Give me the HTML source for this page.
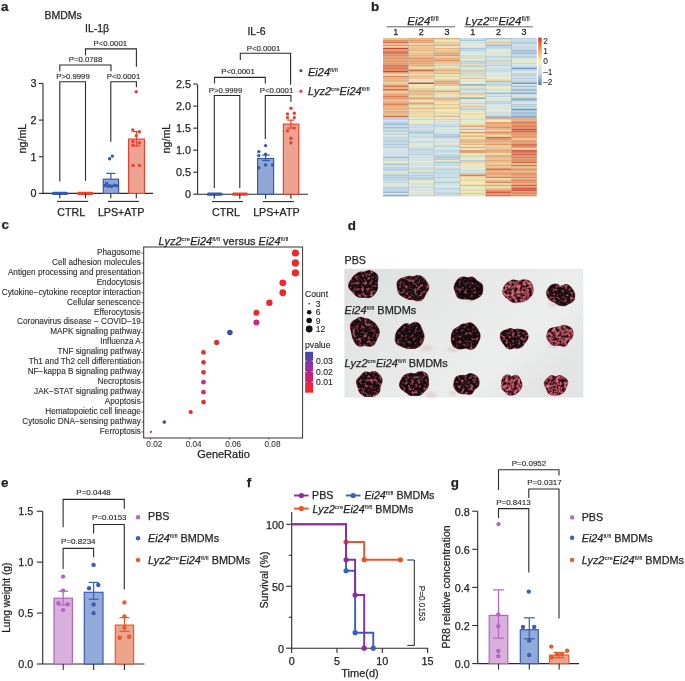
<!DOCTYPE html>
<html><head><meta charset="utf-8"><style>
html,body{margin:0;padding:0;background:#fff;width:685px;height:681px;overflow:hidden}
svg{display:block;font-family:"Liberation Sans", sans-serif}
text{stroke:#231f20;stroke-width:0.25px;stroke-linejoin:round}
text.sm{stroke-width:0.12px}
tspan.sp{stroke-width:0.1px}
</style></head><body>
<svg width="685" height="681" viewBox="0 0 685 681">
<defs><filter id="soft" x="0" y="0" width="100%" height="100%" color-interpolation-filters="sRGB"><feGaussianBlur stdDeviation="0.35"/></filter></defs>
<g filter="url(#soft)">
<rect width="685" height="681" fill="#fff"/>
<text x="0.9" y="10.7" font-size="13.4" text-anchor="start" font-weight="bold" font-style="normal" fill="#231f20" >a</text>
<text x="370.9" y="10.75" font-size="13.4" text-anchor="start" font-weight="bold" font-style="normal" fill="#231f20" >b</text>
<text x="1.5" y="229.35" font-size="13.4" text-anchor="start" font-weight="bold" font-style="normal" fill="#231f20" >c</text>
<text x="347.7" y="229.55" font-size="13.4" text-anchor="start" font-weight="bold" font-style="normal" fill="#231f20" >d</text>
<text x="0.9" y="486.65" font-size="13.4" text-anchor="start" font-weight="bold" font-style="normal" fill="#231f20" >e</text>
<text x="246.7" y="486.8" font-size="13.4" text-anchor="start" font-weight="bold" font-style="normal" fill="#231f20" >f</text>
<text x="450.8" y="486.75" font-size="13.4" text-anchor="start" font-weight="bold" font-style="normal" fill="#231f20" >g</text>
<text x="44.5" y="19.1" font-size="10.5" text-anchor="start" font-weight="normal" font-style="normal" fill="#231f20" >BMDMs</text>
<text x="85" y="31.5" font-size="10.5" text-anchor="start" font-weight="normal" font-style="normal" fill="#231f20" >IL-1β</text>
<line x1="43.00" y1="83.50" x2="43.00" y2="193.40" stroke="#2a2a2a" stroke-width="1.1" stroke-linecap="butt"/>
<line x1="38.80" y1="83.45" x2="43.00" y2="83.45" stroke="#2a2a2a" stroke-width="1.1" stroke-linecap="butt"/>
<text x="36.4" y="87.33800000000002" font-size="10.8" text-anchor="end" font-weight="normal" font-style="normal" fill="#231f20" >3</text>
<line x1="38.80" y1="120.10" x2="43.00" y2="120.10" stroke="#2a2a2a" stroke-width="1.1" stroke-linecap="butt"/>
<text x="36.4" y="123.98800000000001" font-size="10.8" text-anchor="end" font-weight="normal" font-style="normal" fill="#231f20" >2</text>
<line x1="38.80" y1="156.75" x2="43.00" y2="156.75" stroke="#2a2a2a" stroke-width="1.1" stroke-linecap="butt"/>
<text x="36.4" y="160.638" font-size="10.8" text-anchor="end" font-weight="normal" font-style="normal" fill="#231f20" >1</text>
<line x1="38.80" y1="193.40" x2="43.00" y2="193.40" stroke="#2a2a2a" stroke-width="1.1" stroke-linecap="butt"/>
<text x="36.4" y="197.288" font-size="10.8" text-anchor="end" font-weight="normal" font-style="normal" fill="#231f20" >0</text>
<line x1="43.00" y1="193.40" x2="153.00" y2="193.40" stroke="#2a2a2a" stroke-width="1.1" stroke-linecap="butt"/>
<text transform="translate(25.9,138.6) rotate(-90)" font-size="10.7" text-anchor="middle" fill="#231f20">ng/mL</text>
<line x1="53.50" y1="193.40" x2="66.40" y2="193.40" stroke="#3459b0" stroke-width="3.3" stroke-linecap="round"/>
<line x1="78.70" y1="193.40" x2="91.80" y2="193.40" stroke="#e8432e" stroke-width="3.3" stroke-linecap="round"/>
<rect x="103.3" y="179.2" width="15.3" height="14.200000000000017" fill="#8fa7d4" stroke="#3459b0" stroke-width="1.2"/>
<rect x="128.6" y="139.1" width="15.9" height="54.30000000000001" fill="#eca392" stroke="#e8432e" stroke-width="1.2"/>
<line x1="110.90" y1="173.40" x2="110.90" y2="179.20" stroke="#3459b0" stroke-width="1.2" stroke-linecap="butt"/>
<line x1="106.30" y1="173.40" x2="115.40" y2="173.40" stroke="#3459b0" stroke-width="1.2" stroke-linecap="butt"/>
<line x1="106.50" y1="185.80" x2="115.20" y2="185.80" stroke="#3459b0" stroke-width="1.2" stroke-linecap="butt"/>
<line x1="136.50" y1="131.60" x2="136.50" y2="146.00" stroke="#e8432e" stroke-width="1.2" stroke-linecap="butt"/>
<line x1="132.80" y1="131.60" x2="140.20" y2="131.60" stroke="#e8432e" stroke-width="1.2" stroke-linecap="butt"/>
<line x1="132.80" y1="146.00" x2="140.20" y2="146.00" stroke="#e8432e" stroke-width="1.2" stroke-linecap="butt"/>
<circle cx="112.30" cy="156.10" r="1.7" fill="#3459b0" />
<circle cx="109.60" cy="158.80" r="1.7" fill="#3459b0" />
<circle cx="106.60" cy="183.40" r="1.7" fill="#3459b0" />
<circle cx="109.90" cy="185.60" r="1.7" fill="#3459b0" />
<circle cx="114.30" cy="185.20" r="1.7" fill="#3459b0" />
<circle cx="117.10" cy="185.80" r="1.7" fill="#3459b0" />
<circle cx="104.60" cy="185.60" r="1.7" fill="#3459b0" />
<circle cx="111.50" cy="186.60" r="1.7" fill="#3459b0" />
<circle cx="108.00" cy="186.20" r="1.7" fill="#3459b0" />
<circle cx="136.20" cy="91.70" r="1.7" fill="#e8432e" />
<circle cx="132.80" cy="130.00" r="1.7" fill="#e8432e" />
<circle cx="139.40" cy="131.80" r="1.7" fill="#e8432e" />
<circle cx="136.30" cy="135.80" r="1.7" fill="#e8432e" />
<circle cx="133.00" cy="141.50" r="1.7" fill="#e8432e" />
<circle cx="139.40" cy="142.80" r="1.7" fill="#e8432e" />
<circle cx="133.00" cy="145.20" r="1.7" fill="#e8432e" />
<circle cx="133.20" cy="165.40" r="1.7" fill="#e8432e" />
<circle cx="139.50" cy="165.40" r="1.7" fill="#e8432e" />
<line x1="59.80" y1="193.40" x2="59.80" y2="198.20" stroke="#2a2a2a" stroke-width="1.1" stroke-linecap="butt"/>
<line x1="85.50" y1="193.40" x2="85.50" y2="198.20" stroke="#2a2a2a" stroke-width="1.1" stroke-linecap="butt"/>
<line x1="110.80" y1="193.40" x2="110.80" y2="198.20" stroke="#2a2a2a" stroke-width="1.1" stroke-linecap="butt"/>
<line x1="136.30" y1="193.40" x2="136.30" y2="198.20" stroke="#2a2a2a" stroke-width="1.1" stroke-linecap="butt"/>
<line x1="57.00" y1="201.40" x2="88.20" y2="201.40" stroke="#2a2a2a" stroke-width="1.1" stroke-linecap="butt"/>
<line x1="108.00" y1="201.40" x2="139.00" y2="201.40" stroke="#2a2a2a" stroke-width="1.1" stroke-linecap="butt"/>
<text x="71.3" y="216.2" font-size="10.7" text-anchor="middle" font-weight="normal" font-style="normal" fill="#231f20" >CTRL</text>
<text x="121.1" y="216.2" font-size="10.7" text-anchor="middle" font-weight="normal" font-style="normal" fill="#231f20" >LPS+ATP</text>
<polyline points="85.50,55.40 85.50,48.90 136.40,48.90 136.40,66.80" fill="none" stroke="#2a2a2a" stroke-width="1.1" stroke-linejoin="miter"/>
<text x="110.3" y="46.1" font-size="7.8" text-anchor="middle" font-weight="normal" font-style="normal" fill="#231f20"  class="sm">P&lt;0.0001</text>
<polyline points="59.80,71.20 59.80,65.00 111.00,65.00 111.00,71.20" fill="none" stroke="#2a2a2a" stroke-width="1.1" stroke-linejoin="miter"/>
<text x="85.5" y="62" font-size="7.8" text-anchor="middle" font-weight="normal" font-style="normal" fill="#231f20"  class="sm">P=0.0788</text>
<polyline points="59.80,181.50 59.80,81.70 85.50,81.70 85.50,180.70" fill="none" stroke="#2a2a2a" stroke-width="1.1" stroke-linejoin="miter"/>
<text x="73" y="78.5" font-size="7.8" text-anchor="middle" font-weight="normal" font-style="normal" fill="#231f20"  class="sm">P&gt;0.9999</text>
<polyline points="110.80,141.70 110.80,81.70 136.40,81.70 136.40,87.30" fill="none" stroke="#2a2a2a" stroke-width="1.1" stroke-linejoin="miter"/>
<text x="123.5" y="78.5" font-size="7.8" text-anchor="middle" font-weight="normal" font-style="normal" fill="#231f20"  class="sm">P&lt;0.0001</text>
<text x="256.5" y="35.4" font-size="10.5" text-anchor="middle" font-weight="normal" font-style="normal" fill="#231f20" >IL-6</text>
<line x1="197.60" y1="84.50" x2="197.60" y2="194.20" stroke="#2a2a2a" stroke-width="1.1" stroke-linecap="butt"/>
<line x1="193.30" y1="84.10" x2="197.60" y2="84.10" stroke="#2a2a2a" stroke-width="1.1" stroke-linecap="butt"/>
<text x="191" y="87.788" font-size="10.8" text-anchor="end" font-weight="normal" font-style="normal" fill="#231f20" >2.5</text>
<line x1="193.30" y1="106.12" x2="197.60" y2="106.12" stroke="#2a2a2a" stroke-width="1.1" stroke-linecap="butt"/>
<text x="191" y="109.80799999999999" font-size="10.8" text-anchor="end" font-weight="normal" font-style="normal" fill="#231f20" >2.0</text>
<line x1="193.30" y1="128.14" x2="197.60" y2="128.14" stroke="#2a2a2a" stroke-width="1.1" stroke-linecap="butt"/>
<text x="191" y="131.828" font-size="10.8" text-anchor="end" font-weight="normal" font-style="normal" fill="#231f20" >1.5</text>
<line x1="193.30" y1="150.16" x2="197.60" y2="150.16" stroke="#2a2a2a" stroke-width="1.1" stroke-linecap="butt"/>
<text x="191" y="153.848" font-size="10.8" text-anchor="end" font-weight="normal" font-style="normal" fill="#231f20" >1.0</text>
<line x1="193.30" y1="172.18" x2="197.60" y2="172.18" stroke="#2a2a2a" stroke-width="1.1" stroke-linecap="butt"/>
<text x="191" y="175.868" font-size="10.8" text-anchor="end" font-weight="normal" font-style="normal" fill="#231f20" >0.5</text>
<line x1="193.30" y1="194.20" x2="197.60" y2="194.20" stroke="#2a2a2a" stroke-width="1.1" stroke-linecap="butt"/>
<text x="191" y="197.888" font-size="10.8" text-anchor="end" font-weight="normal" font-style="normal" fill="#231f20" >0</text>
<line x1="197.60" y1="194.20" x2="308.00" y2="194.20" stroke="#2a2a2a" stroke-width="1.1" stroke-linecap="butt"/>
<text transform="translate(169.8,138.6) rotate(-90)" font-size="10.7" text-anchor="middle" fill="#231f20">ng/mL</text>
<line x1="208.40" y1="194.20" x2="221.00" y2="194.20" stroke="#3459b0" stroke-width="3.3" stroke-linecap="round"/>
<line x1="233.50" y1="194.20" x2="246.40" y2="194.20" stroke="#e8432e" stroke-width="3.3" stroke-linecap="round"/>
<rect x="257.6" y="158.5" width="16" height="35.69999999999999" fill="#8fa7d4" stroke="#3459b0" stroke-width="1.2"/>
<rect x="283.4" y="124.1" width="15.4" height="70.1" fill="#eca392" stroke="#e8432e" stroke-width="1.2"/>
<line x1="265.60" y1="155.10" x2="265.60" y2="160.50" stroke="#3459b0" stroke-width="1.2" stroke-linecap="butt"/>
<line x1="262.20" y1="155.10" x2="269.80" y2="155.10" stroke="#3459b0" stroke-width="1.2" stroke-linecap="butt"/>
<line x1="262.20" y1="160.50" x2="269.80" y2="160.50" stroke="#3459b0" stroke-width="1.2" stroke-linecap="butt"/>
<line x1="290.90" y1="120.10" x2="290.90" y2="128.10" stroke="#e8432e" stroke-width="1.2" stroke-linecap="butt"/>
<line x1="287.20" y1="120.10" x2="294.60" y2="120.10" stroke="#e8432e" stroke-width="1.2" stroke-linecap="butt"/>
<line x1="287.20" y1="128.10" x2="294.60" y2="128.10" stroke="#e8432e" stroke-width="1.2" stroke-linecap="butt"/>
<circle cx="265.60" cy="145.60" r="1.7" fill="#3459b0" />
<circle cx="258.80" cy="151.60" r="1.7" fill="#3459b0" />
<circle cx="258.80" cy="155.60" r="1.7" fill="#3459b0" />
<circle cx="265.60" cy="154.30" r="1.7" fill="#3459b0" />
<circle cx="265.60" cy="165.00" r="1.7" fill="#3459b0" />
<circle cx="258.80" cy="167.70" r="1.7" fill="#3459b0" />
<circle cx="272.50" cy="165.00" r="1.7" fill="#3459b0" />
<circle cx="290.90" cy="108.30" r="1.7" fill="#e8432e" />
<circle cx="287.50" cy="113.90" r="1.7" fill="#e8432e" />
<circle cx="294.30" cy="113.30" r="1.7" fill="#e8432e" />
<circle cx="287.50" cy="117.60" r="1.7" fill="#e8432e" />
<circle cx="294.30" cy="117.60" r="1.7" fill="#e8432e" />
<circle cx="294.30" cy="128.10" r="1.7" fill="#e8432e" />
<circle cx="287.50" cy="130.90" r="1.7" fill="#e8432e" />
<circle cx="290.90" cy="138.30" r="1.7" fill="#e8432e" />
<circle cx="290.90" cy="142.70" r="1.7" fill="#e8432e" />
<line x1="214.30" y1="194.20" x2="214.30" y2="198.80" stroke="#2a2a2a" stroke-width="1.1" stroke-linecap="butt"/>
<line x1="239.80" y1="194.20" x2="239.80" y2="198.80" stroke="#2a2a2a" stroke-width="1.1" stroke-linecap="butt"/>
<line x1="265.60" y1="194.20" x2="265.60" y2="198.80" stroke="#2a2a2a" stroke-width="1.1" stroke-linecap="butt"/>
<line x1="290.90" y1="194.20" x2="290.90" y2="198.80" stroke="#2a2a2a" stroke-width="1.1" stroke-linecap="butt"/>
<line x1="212.00" y1="201.60" x2="243.00" y2="201.60" stroke="#2a2a2a" stroke-width="1.1" stroke-linecap="butt"/>
<line x1="262.80" y1="201.60" x2="294.00" y2="201.60" stroke="#2a2a2a" stroke-width="1.1" stroke-linecap="butt"/>
<text x="226" y="216.4" font-size="10.7" text-anchor="middle" font-weight="normal" font-style="normal" fill="#231f20" >CTRL</text>
<text x="276.4" y="216.4" font-size="10.7" text-anchor="middle" font-weight="normal" font-style="normal" fill="#231f20" >LPS+ATP</text>
<polyline points="240.30,60.00 240.30,53.30 290.60,53.30 290.60,84.70" fill="none" stroke="#2a2a2a" stroke-width="1.1" stroke-linejoin="miter"/>
<text x="263.5" y="50.8" font-size="7.8" text-anchor="middle" font-weight="normal" font-style="normal" fill="#231f20"  class="sm">P&lt;0.0001</text>
<polyline points="214.50,83.60 214.50,77.40 265.30,77.40 265.30,83.60" fill="none" stroke="#2a2a2a" stroke-width="1.1" stroke-linejoin="miter"/>
<text x="238" y="74" font-size="7.8" text-anchor="middle" font-weight="normal" font-style="normal" fill="#231f20"  class="sm">P&lt;0.0001</text>
<polyline points="214.30,188.00 214.30,95.50 239.80,95.50 239.80,188.00" fill="none" stroke="#2a2a2a" stroke-width="1.1" stroke-linejoin="miter"/>
<text x="225.5" y="92.5" font-size="7.8" text-anchor="middle" font-weight="normal" font-style="normal" fill="#231f20"  class="sm">P&gt;0.9999</text>
<polyline points="265.30,139.00 265.30,95.50 290.90,95.50 290.90,101.80" fill="none" stroke="#2a2a2a" stroke-width="1.1" stroke-linejoin="miter"/>
<text x="276.5" y="92.5" font-size="7.8" text-anchor="middle" font-weight="normal" font-style="normal" fill="#231f20"  class="sm">P&lt;0.0001</text>
<circle cx="300.90" cy="70.70" r="1.6" fill="#3459b0" />
<text  x="308" y="75.8" font-size="11" text-anchor="start" fill="#231f20"><tspan font-style="italic">Ei24</tspan><tspan class="sp" font-size="6.16" dy="-3.96">fl/fl</tspan><tspan dy="3.96"></tspan></text>
<circle cx="300.90" cy="91.20" r="1.6" fill="#e8432e" />
<text  x="308" y="95.4" font-size="11" text-anchor="start" fill="#231f20"><tspan font-style="italic">Lyz2</tspan><tspan class="sp" font-size="6.16" dy="-3.96">cre</tspan><tspan font-style="italic" dy="3.96">Ei24</tspan><tspan class="sp" font-size="6.16" dy="-3.96">fl/fl</tspan><tspan dy="3.96"></tspan></text>
<text  x="423" y="25" font-size="11.5" text-anchor="middle" fill="#231f20"><tspan font-style="italic">Ei24</tspan><tspan class="sp" font-size="6.44" dy="-4.14">fl/fl</tspan><tspan dy="4.14"></tspan></text>
<text  x="497.5" y="25" font-size="11.5" text-anchor="middle" fill="#231f20"><tspan font-style="italic">Lyz2</tspan><tspan class="sp" font-size="6.44" dy="-4.14">cre</tspan><tspan font-style="italic" dy="4.14">Ei24</tspan><tspan class="sp" font-size="6.44" dy="-4.14">fl/fl</tspan><tspan dy="4.14"></tspan></text>
<line x1="386.70" y1="26.80" x2="455.10" y2="26.80" stroke="#555" stroke-width="0.9" stroke-linecap="butt"/>
<line x1="464.30" y1="26.80" x2="532.70" y2="26.80" stroke="#555" stroke-width="0.9" stroke-linecap="butt"/>
<text x="395.7" y="35.4" font-size="9" text-anchor="middle" font-weight="normal" font-style="normal" fill="#231f20" >1</text>
<text x="421.3" y="35.4" font-size="9" text-anchor="middle" font-weight="normal" font-style="normal" fill="#231f20" >2</text>
<text x="447" y="35.4" font-size="9" text-anchor="middle" font-weight="normal" font-style="normal" fill="#231f20" >3</text>
<text x="472.8" y="35.4" font-size="9" text-anchor="middle" font-weight="normal" font-style="normal" fill="#231f20" >1</text>
<text x="498.6" y="35.4" font-size="9" text-anchor="middle" font-weight="normal" font-style="normal" fill="#231f20" >2</text>
<text x="524.1" y="35.4" font-size="9" text-anchor="middle" font-weight="normal" font-style="normal" fill="#231f20" >3</text>
<rect x="383.00" y="38.00" width="25.50" height="1.70" fill="#e9c792" stroke="none" stroke-width="1"/>
<rect x="408.50" y="38.00" width="25.70" height="1.70" fill="#e6b27f" stroke="none" stroke-width="1"/>
<rect x="434.20" y="38.00" width="25.70" height="1.70" fill="#e5ad7a" stroke="none" stroke-width="1"/>
<rect x="459.90" y="38.00" width="25.80" height="1.70" fill="#c8dbe3" stroke="none" stroke-width="1"/>
<rect x="485.70" y="38.00" width="25.80" height="1.70" fill="#a9c5db" stroke="none" stroke-width="1"/>
<rect x="511.50" y="38.00" width="25.30" height="1.70" fill="#b8d1e0" stroke="none" stroke-width="1"/>
<rect x="383.00" y="39.65" width="25.50" height="1.70" fill="#e09466" stroke="none" stroke-width="1"/>
<rect x="408.50" y="39.65" width="25.70" height="1.70" fill="#e39c6b" stroke="none" stroke-width="1"/>
<rect x="434.20" y="39.65" width="25.70" height="1.70" fill="#e8eabf" stroke="none" stroke-width="1"/>
<rect x="459.90" y="39.65" width="25.80" height="1.70" fill="#aac6dc" stroke="none" stroke-width="1"/>
<rect x="485.70" y="39.65" width="25.80" height="1.70" fill="#dde6d3" stroke="none" stroke-width="1"/>
<rect x="511.50" y="39.65" width="25.30" height="1.70" fill="#c7dbe3" stroke="none" stroke-width="1"/>
<rect x="383.00" y="41.30" width="25.50" height="1.70" fill="#d77050" stroke="none" stroke-width="1"/>
<rect x="408.50" y="41.30" width="25.70" height="1.70" fill="#e4a06e" stroke="none" stroke-width="1"/>
<rect x="434.20" y="41.30" width="25.70" height="1.70" fill="#ead09a" stroke="none" stroke-width="1"/>
<rect x="459.90" y="41.30" width="25.80" height="1.70" fill="#d0e1e5" stroke="none" stroke-width="1"/>
<rect x="485.70" y="41.30" width="25.80" height="1.70" fill="#e9cb96" stroke="none" stroke-width="1"/>
<rect x="511.50" y="41.30" width="25.30" height="1.70" fill="#b2ccdf" stroke="none" stroke-width="1"/>
<rect x="383.00" y="42.95" width="25.50" height="1.70" fill="#e7ba86" stroke="none" stroke-width="1"/>
<rect x="408.50" y="42.95" width="25.70" height="1.70" fill="#ece1a9" stroke="none" stroke-width="1"/>
<rect x="434.20" y="42.95" width="25.70" height="1.70" fill="#e9ca95" stroke="none" stroke-width="1"/>
<rect x="459.90" y="42.95" width="25.80" height="1.70" fill="#dde6d4" stroke="none" stroke-width="1"/>
<rect x="485.70" y="42.95" width="25.80" height="1.70" fill="#c4d9e3" stroke="none" stroke-width="1"/>
<rect x="511.50" y="42.95" width="25.30" height="1.70" fill="#b8d1e0" stroke="none" stroke-width="1"/>
<rect x="383.00" y="44.60" width="25.50" height="1.70" fill="#e29b6a" stroke="none" stroke-width="1"/>
<rect x="408.50" y="44.60" width="25.70" height="1.70" fill="#e5a976" stroke="none" stroke-width="1"/>
<rect x="434.20" y="44.60" width="25.70" height="1.70" fill="#e5aa77" stroke="none" stroke-width="1"/>
<rect x="459.90" y="44.60" width="25.80" height="1.70" fill="#dfe7d0" stroke="none" stroke-width="1"/>
<rect x="485.70" y="44.60" width="25.80" height="1.70" fill="#9ab9d5" stroke="none" stroke-width="1"/>
<rect x="511.50" y="44.60" width="25.30" height="1.70" fill="#cddfe4" stroke="none" stroke-width="1"/>
<rect x="383.00" y="46.24" width="25.50" height="1.70" fill="#e9cc97" stroke="none" stroke-width="1"/>
<rect x="408.50" y="46.24" width="25.70" height="1.70" fill="#e8c38e" stroke="none" stroke-width="1"/>
<rect x="434.20" y="46.24" width="25.70" height="1.70" fill="#e2e8c9" stroke="none" stroke-width="1"/>
<rect x="459.90" y="46.24" width="25.80" height="1.70" fill="#d9e5db" stroke="none" stroke-width="1"/>
<rect x="485.70" y="46.24" width="25.80" height="1.70" fill="#b9d1e1" stroke="none" stroke-width="1"/>
<rect x="511.50" y="46.24" width="25.30" height="1.70" fill="#c0d6e2" stroke="none" stroke-width="1"/>
<rect x="383.00" y="47.89" width="25.50" height="1.70" fill="#cc4636" stroke="none" stroke-width="1"/>
<rect x="408.50" y="47.89" width="25.70" height="1.70" fill="#e8bf8b" stroke="none" stroke-width="1"/>
<rect x="434.20" y="47.89" width="25.70" height="1.70" fill="#e6b27f" stroke="none" stroke-width="1"/>
<rect x="459.90" y="47.89" width="25.80" height="1.70" fill="#a9c5db" stroke="none" stroke-width="1"/>
<rect x="485.70" y="47.89" width="25.80" height="1.70" fill="#c6dae3" stroke="none" stroke-width="1"/>
<rect x="511.50" y="47.89" width="25.30" height="1.70" fill="#ccdee4" stroke="none" stroke-width="1"/>
<rect x="383.00" y="49.54" width="25.50" height="1.70" fill="#e4a673" stroke="none" stroke-width="1"/>
<rect x="408.50" y="49.54" width="25.70" height="1.70" fill="#e6b37f" stroke="none" stroke-width="1"/>
<rect x="434.20" y="49.54" width="25.70" height="1.70" fill="#e9ca94" stroke="none" stroke-width="1"/>
<rect x="459.90" y="49.54" width="25.80" height="1.70" fill="#b6d0e0" stroke="none" stroke-width="1"/>
<rect x="485.70" y="49.54" width="25.80" height="1.70" fill="#dae6d9" stroke="none" stroke-width="1"/>
<rect x="511.50" y="49.54" width="25.30" height="1.70" fill="#a0bed8" stroke="none" stroke-width="1"/>
<rect x="383.00" y="51.19" width="25.50" height="1.70" fill="#d46448" stroke="none" stroke-width="1"/>
<rect x="408.50" y="51.19" width="25.70" height="1.70" fill="#eacd98" stroke="none" stroke-width="1"/>
<rect x="434.20" y="51.19" width="25.70" height="1.70" fill="#e7b783" stroke="none" stroke-width="1"/>
<rect x="459.90" y="51.19" width="25.80" height="1.70" fill="#d9e5db" stroke="none" stroke-width="1"/>
<rect x="485.70" y="51.19" width="25.80" height="1.70" fill="#e2e8c9" stroke="none" stroke-width="1"/>
<rect x="511.50" y="51.19" width="25.30" height="1.70" fill="#a7c3db" stroke="none" stroke-width="1"/>
<rect x="383.00" y="52.84" width="25.50" height="1.70" fill="#dc825b" stroke="none" stroke-width="1"/>
<rect x="408.50" y="52.84" width="25.70" height="1.70" fill="#e8c28d" stroke="none" stroke-width="1"/>
<rect x="434.20" y="52.84" width="25.70" height="1.70" fill="#e4a572" stroke="none" stroke-width="1"/>
<rect x="459.90" y="52.84" width="25.80" height="1.70" fill="#ebebb9" stroke="none" stroke-width="1"/>
<rect x="485.70" y="52.84" width="25.80" height="1.70" fill="#d1e2e5" stroke="none" stroke-width="1"/>
<rect x="511.50" y="52.84" width="25.30" height="1.70" fill="#a1bed8" stroke="none" stroke-width="1"/>
<rect x="383.00" y="54.49" width="25.50" height="1.70" fill="#de8a60" stroke="none" stroke-width="1"/>
<rect x="408.50" y="54.49" width="25.70" height="1.70" fill="#e6b07c" stroke="none" stroke-width="1"/>
<rect x="434.20" y="54.49" width="25.70" height="1.70" fill="#e19768" stroke="none" stroke-width="1"/>
<rect x="459.90" y="54.49" width="25.80" height="1.70" fill="#cddfe4" stroke="none" stroke-width="1"/>
<rect x="485.70" y="54.49" width="25.80" height="1.70" fill="#dae5d9" stroke="none" stroke-width="1"/>
<rect x="511.50" y="54.49" width="25.30" height="1.70" fill="#c8dbe3" stroke="none" stroke-width="1"/>
<rect x="383.00" y="56.14" width="25.50" height="1.70" fill="#e29a6a" stroke="none" stroke-width="1"/>
<rect x="408.50" y="56.14" width="25.70" height="1.70" fill="#e7b884" stroke="none" stroke-width="1"/>
<rect x="434.20" y="56.14" width="25.70" height="1.70" fill="#e9c792" stroke="none" stroke-width="1"/>
<rect x="459.90" y="56.14" width="25.80" height="1.70" fill="#c5d9e3" stroke="none" stroke-width="1"/>
<rect x="485.70" y="56.14" width="25.80" height="1.70" fill="#b3cddf" stroke="none" stroke-width="1"/>
<rect x="511.50" y="56.14" width="25.30" height="1.70" fill="#aec9dd" stroke="none" stroke-width="1"/>
<rect x="383.00" y="57.79" width="25.50" height="1.70" fill="#df9064" stroke="none" stroke-width="1"/>
<rect x="408.50" y="57.79" width="25.70" height="1.70" fill="#df8d62" stroke="none" stroke-width="1"/>
<rect x="434.20" y="57.79" width="25.70" height="1.70" fill="#e5ae7b" stroke="none" stroke-width="1"/>
<rect x="459.90" y="57.79" width="25.80" height="1.70" fill="#ecdea7" stroke="none" stroke-width="1"/>
<rect x="485.70" y="57.79" width="25.80" height="1.70" fill="#dee7d0" stroke="none" stroke-width="1"/>
<rect x="511.50" y="57.79" width="25.30" height="1.70" fill="#cddfe4" stroke="none" stroke-width="1"/>
<rect x="383.00" y="59.44" width="25.50" height="1.70" fill="#e39e6c" stroke="none" stroke-width="1"/>
<rect x="408.50" y="59.44" width="25.70" height="1.70" fill="#e4a674" stroke="none" stroke-width="1"/>
<rect x="434.20" y="59.44" width="25.70" height="1.70" fill="#e09265" stroke="none" stroke-width="1"/>
<rect x="459.90" y="59.44" width="25.80" height="1.70" fill="#cee0e5" stroke="none" stroke-width="1"/>
<rect x="485.70" y="59.44" width="25.80" height="1.70" fill="#bbd3e1" stroke="none" stroke-width="1"/>
<rect x="511.50" y="59.44" width="25.30" height="1.70" fill="#eaeabb" stroke="none" stroke-width="1"/>
<rect x="383.00" y="61.09" width="25.50" height="1.70" fill="#e29c6b" stroke="none" stroke-width="1"/>
<rect x="408.50" y="61.09" width="25.70" height="1.70" fill="#e4a06e" stroke="none" stroke-width="1"/>
<rect x="434.20" y="61.09" width="25.70" height="1.70" fill="#e6b17e" stroke="none" stroke-width="1"/>
<rect x="459.90" y="61.09" width="25.80" height="1.70" fill="#b1ccdf" stroke="none" stroke-width="1"/>
<rect x="485.70" y="61.09" width="25.80" height="1.70" fill="#eacf99" stroke="none" stroke-width="1"/>
<rect x="511.50" y="61.09" width="25.30" height="1.70" fill="#e5e9c3" stroke="none" stroke-width="1"/>
<rect x="383.00" y="62.73" width="25.50" height="1.70" fill="#e39e6d" stroke="none" stroke-width="1"/>
<rect x="408.50" y="62.73" width="25.70" height="1.70" fill="#e4a774" stroke="none" stroke-width="1"/>
<rect x="434.20" y="62.73" width="25.70" height="1.70" fill="#e9c994" stroke="none" stroke-width="1"/>
<rect x="459.90" y="62.73" width="25.80" height="1.70" fill="#bbd3e1" stroke="none" stroke-width="1"/>
<rect x="485.70" y="62.73" width="25.80" height="1.70" fill="#cadde4" stroke="none" stroke-width="1"/>
<rect x="511.50" y="62.73" width="25.30" height="1.70" fill="#c4d9e3" stroke="none" stroke-width="1"/>
<rect x="383.00" y="64.38" width="25.50" height="1.70" fill="#db7e59" stroke="none" stroke-width="1"/>
<rect x="408.50" y="64.38" width="25.70" height="1.70" fill="#e5a876" stroke="none" stroke-width="1"/>
<rect x="434.20" y="64.38" width="25.70" height="1.70" fill="#e9cb96" stroke="none" stroke-width="1"/>
<rect x="459.90" y="64.38" width="25.80" height="1.70" fill="#ead19b" stroke="none" stroke-width="1"/>
<rect x="485.70" y="64.38" width="25.80" height="1.70" fill="#bad2e1" stroke="none" stroke-width="1"/>
<rect x="511.50" y="64.38" width="25.30" height="1.70" fill="#cfe1e5" stroke="none" stroke-width="1"/>
<rect x="383.00" y="66.03" width="25.50" height="1.70" fill="#db7e59" stroke="none" stroke-width="1"/>
<rect x="408.50" y="66.03" width="25.70" height="1.70" fill="#e9c792" stroke="none" stroke-width="1"/>
<rect x="434.20" y="66.03" width="25.70" height="1.70" fill="#dbe6d7" stroke="none" stroke-width="1"/>
<rect x="459.90" y="66.03" width="25.80" height="1.70" fill="#bad2e1" stroke="none" stroke-width="1"/>
<rect x="485.70" y="66.03" width="25.80" height="1.70" fill="#d3e3e5" stroke="none" stroke-width="1"/>
<rect x="511.50" y="66.03" width="25.30" height="1.70" fill="#c8dce3" stroke="none" stroke-width="1"/>
<rect x="383.00" y="67.68" width="25.50" height="1.70" fill="#d76f4f" stroke="none" stroke-width="1"/>
<rect x="408.50" y="67.68" width="25.70" height="1.70" fill="#ecdca6" stroke="none" stroke-width="1"/>
<rect x="434.20" y="67.68" width="25.70" height="1.70" fill="#e9cd97" stroke="none" stroke-width="1"/>
<rect x="459.90" y="67.68" width="25.80" height="1.70" fill="#ebebb8" stroke="none" stroke-width="1"/>
<rect x="485.70" y="67.68" width="25.80" height="1.70" fill="#c9dce4" stroke="none" stroke-width="1"/>
<rect x="511.50" y="67.68" width="25.30" height="1.70" fill="#6a92c3" stroke="none" stroke-width="1"/>
<rect x="383.00" y="69.33" width="25.50" height="1.70" fill="#dd885f" stroke="none" stroke-width="1"/>
<rect x="408.50" y="69.33" width="25.70" height="1.70" fill="#d77050" stroke="none" stroke-width="1"/>
<rect x="434.20" y="69.33" width="25.70" height="1.70" fill="#e5ad7a" stroke="none" stroke-width="1"/>
<rect x="459.90" y="69.33" width="25.80" height="1.70" fill="#bad2e1" stroke="none" stroke-width="1"/>
<rect x="485.70" y="69.33" width="25.80" height="1.70" fill="#c3d8e2" stroke="none" stroke-width="1"/>
<rect x="511.50" y="69.33" width="25.30" height="1.70" fill="#c0d6e2" stroke="none" stroke-width="1"/>
<rect x="383.00" y="70.98" width="25.50" height="1.70" fill="#ce4f3b" stroke="none" stroke-width="1"/>
<rect x="408.50" y="70.98" width="25.70" height="1.70" fill="#e5ab78" stroke="none" stroke-width="1"/>
<rect x="434.20" y="70.98" width="25.70" height="1.70" fill="#e9c994" stroke="none" stroke-width="1"/>
<rect x="459.90" y="70.98" width="25.80" height="1.70" fill="#e9c994" stroke="none" stroke-width="1"/>
<rect x="485.70" y="70.98" width="25.80" height="1.70" fill="#cbdee4" stroke="none" stroke-width="1"/>
<rect x="511.50" y="70.98" width="25.30" height="1.70" fill="#e7eabf" stroke="none" stroke-width="1"/>
<rect x="383.00" y="72.63" width="25.50" height="1.70" fill="#e7b783" stroke="none" stroke-width="1"/>
<rect x="408.50" y="72.63" width="25.70" height="1.70" fill="#e9cc97" stroke="none" stroke-width="1"/>
<rect x="434.20" y="72.63" width="25.70" height="1.70" fill="#e6b682" stroke="none" stroke-width="1"/>
<rect x="459.90" y="72.63" width="25.80" height="1.70" fill="#eace99" stroke="none" stroke-width="1"/>
<rect x="485.70" y="72.63" width="25.80" height="1.70" fill="#dce6d5" stroke="none" stroke-width="1"/>
<rect x="511.50" y="72.63" width="25.30" height="1.70" fill="#c2d7e2" stroke="none" stroke-width="1"/>
<rect x="383.00" y="74.28" width="25.50" height="1.70" fill="#ebd8a1" stroke="none" stroke-width="1"/>
<rect x="408.50" y="74.28" width="25.70" height="1.70" fill="#ead49d" stroke="none" stroke-width="1"/>
<rect x="434.20" y="74.28" width="25.70" height="1.70" fill="#ece1a9" stroke="none" stroke-width="1"/>
<rect x="459.90" y="74.28" width="25.80" height="1.70" fill="#c7dbe3" stroke="none" stroke-width="1"/>
<rect x="485.70" y="74.28" width="25.80" height="1.70" fill="#dae6d8" stroke="none" stroke-width="1"/>
<rect x="511.50" y="74.28" width="25.30" height="1.70" fill="#b0cbde" stroke="none" stroke-width="1"/>
<rect x="383.00" y="75.93" width="25.50" height="1.70" fill="#de8960" stroke="none" stroke-width="1"/>
<rect x="408.50" y="75.93" width="25.70" height="1.70" fill="#e7bb87" stroke="none" stroke-width="1"/>
<rect x="434.20" y="75.93" width="25.70" height="1.70" fill="#ebd8a1" stroke="none" stroke-width="1"/>
<rect x="459.90" y="75.93" width="25.80" height="1.70" fill="#dce6d5" stroke="none" stroke-width="1"/>
<rect x="485.70" y="75.93" width="25.80" height="1.70" fill="#d7e5de" stroke="none" stroke-width="1"/>
<rect x="511.50" y="75.93" width="25.30" height="1.70" fill="#d1e2e5" stroke="none" stroke-width="1"/>
<rect x="383.00" y="77.58" width="25.50" height="1.70" fill="#e6b17e" stroke="none" stroke-width="1"/>
<rect x="408.50" y="77.58" width="25.70" height="1.70" fill="#e8c590" stroke="none" stroke-width="1"/>
<rect x="434.20" y="77.58" width="25.70" height="1.70" fill="#e5e9c5" stroke="none" stroke-width="1"/>
<rect x="459.90" y="77.58" width="25.80" height="1.70" fill="#e9c792" stroke="none" stroke-width="1"/>
<rect x="485.70" y="77.58" width="25.80" height="1.70" fill="#ecebb5" stroke="none" stroke-width="1"/>
<rect x="511.50" y="77.58" width="25.30" height="1.70" fill="#b5cfe0" stroke="none" stroke-width="1"/>
<rect x="383.00" y="79.22" width="25.50" height="1.70" fill="#e6b17e" stroke="none" stroke-width="1"/>
<rect x="408.50" y="79.22" width="25.70" height="1.70" fill="#ece3ac" stroke="none" stroke-width="1"/>
<rect x="434.20" y="79.22" width="25.70" height="1.70" fill="#e9c893" stroke="none" stroke-width="1"/>
<rect x="459.90" y="79.22" width="25.80" height="1.70" fill="#dfe7d0" stroke="none" stroke-width="1"/>
<rect x="485.70" y="79.22" width="25.80" height="1.70" fill="#ebd7a0" stroke="none" stroke-width="1"/>
<rect x="511.50" y="79.22" width="25.30" height="1.70" fill="#c1d6e2" stroke="none" stroke-width="1"/>
<rect x="383.00" y="80.87" width="25.50" height="1.70" fill="#e7ba86" stroke="none" stroke-width="1"/>
<rect x="408.50" y="80.87" width="25.70" height="1.70" fill="#dae5d9" stroke="none" stroke-width="1"/>
<rect x="434.20" y="80.87" width="25.70" height="1.70" fill="#e4a06e" stroke="none" stroke-width="1"/>
<rect x="459.90" y="80.87" width="25.80" height="1.70" fill="#dee7d1" stroke="none" stroke-width="1"/>
<rect x="485.70" y="80.87" width="25.80" height="1.70" fill="#a0bdd8" stroke="none" stroke-width="1"/>
<rect x="511.50" y="80.87" width="25.30" height="1.70" fill="#bfd5e2" stroke="none" stroke-width="1"/>
<rect x="383.00" y="82.52" width="25.50" height="1.70" fill="#ead29c" stroke="none" stroke-width="1"/>
<rect x="408.50" y="82.52" width="25.70" height="1.70" fill="#cc4636" stroke="none" stroke-width="1"/>
<rect x="434.20" y="82.52" width="25.70" height="1.70" fill="#e5a977" stroke="none" stroke-width="1"/>
<rect x="459.90" y="82.52" width="25.80" height="1.70" fill="#e9eabc" stroke="none" stroke-width="1"/>
<rect x="485.70" y="82.52" width="25.80" height="1.70" fill="#c9dce3" stroke="none" stroke-width="1"/>
<rect x="511.50" y="82.52" width="25.30" height="1.70" fill="#7299c6" stroke="none" stroke-width="1"/>
<rect x="383.00" y="84.17" width="25.50" height="1.70" fill="#e4a774" stroke="none" stroke-width="1"/>
<rect x="408.50" y="84.17" width="25.70" height="1.70" fill="#ecebb6" stroke="none" stroke-width="1"/>
<rect x="434.20" y="84.17" width="25.70" height="1.70" fill="#e7ba86" stroke="none" stroke-width="1"/>
<rect x="459.90" y="84.17" width="25.80" height="1.70" fill="#84a7cd" stroke="none" stroke-width="1"/>
<rect x="485.70" y="84.17" width="25.80" height="1.70" fill="#b6cfe0" stroke="none" stroke-width="1"/>
<rect x="511.50" y="84.17" width="25.30" height="1.70" fill="#d9e5da" stroke="none" stroke-width="1"/>
<rect x="383.00" y="85.82" width="25.50" height="1.70" fill="#d66c4d" stroke="none" stroke-width="1"/>
<rect x="408.50" y="85.82" width="25.70" height="1.70" fill="#ece2ab" stroke="none" stroke-width="1"/>
<rect x="434.20" y="85.82" width="25.70" height="1.70" fill="#e1e8cc" stroke="none" stroke-width="1"/>
<rect x="459.90" y="85.82" width="25.80" height="1.70" fill="#ede5ae" stroke="none" stroke-width="1"/>
<rect x="485.70" y="85.82" width="25.80" height="1.70" fill="#e0e7cd" stroke="none" stroke-width="1"/>
<rect x="511.50" y="85.82" width="25.30" height="1.70" fill="#9ab9d5" stroke="none" stroke-width="1"/>
<rect x="383.00" y="87.47" width="25.50" height="1.70" fill="#e7b783" stroke="none" stroke-width="1"/>
<rect x="408.50" y="87.47" width="25.70" height="1.70" fill="#ead39d" stroke="none" stroke-width="1"/>
<rect x="434.20" y="87.47" width="25.70" height="1.70" fill="#e8eabd" stroke="none" stroke-width="1"/>
<rect x="459.90" y="87.47" width="25.80" height="1.70" fill="#c2d7e2" stroke="none" stroke-width="1"/>
<rect x="485.70" y="87.47" width="25.80" height="1.70" fill="#e8eabd" stroke="none" stroke-width="1"/>
<rect x="511.50" y="87.47" width="25.30" height="1.70" fill="#ccdfe4" stroke="none" stroke-width="1"/>
<rect x="383.00" y="89.12" width="25.50" height="1.70" fill="#d25e45" stroke="none" stroke-width="1"/>
<rect x="408.50" y="89.12" width="25.70" height="1.70" fill="#e8c18c" stroke="none" stroke-width="1"/>
<rect x="434.20" y="89.12" width="25.70" height="1.70" fill="#ead19b" stroke="none" stroke-width="1"/>
<rect x="459.90" y="89.12" width="25.80" height="1.70" fill="#b7d0e0" stroke="none" stroke-width="1"/>
<rect x="485.70" y="89.12" width="25.80" height="1.70" fill="#cadde4" stroke="none" stroke-width="1"/>
<rect x="511.50" y="89.12" width="25.30" height="1.70" fill="#8eb0d1" stroke="none" stroke-width="1"/>
<rect x="383.00" y="90.77" width="25.50" height="1.70" fill="#ebd7a0" stroke="none" stroke-width="1"/>
<rect x="408.50" y="90.77" width="25.70" height="1.70" fill="#e5a976" stroke="none" stroke-width="1"/>
<rect x="434.20" y="90.77" width="25.70" height="1.70" fill="#e39f6d" stroke="none" stroke-width="1"/>
<rect x="459.90" y="90.77" width="25.80" height="1.70" fill="#ede7af" stroke="none" stroke-width="1"/>
<rect x="485.70" y="90.77" width="25.80" height="1.70" fill="#eaeaba" stroke="none" stroke-width="1"/>
<rect x="511.50" y="90.77" width="25.30" height="1.70" fill="#c1d7e2" stroke="none" stroke-width="1"/>
<rect x="383.00" y="92.42" width="25.50" height="1.70" fill="#e7b884" stroke="none" stroke-width="1"/>
<rect x="408.50" y="92.42" width="25.70" height="1.70" fill="#e7bb87" stroke="none" stroke-width="1"/>
<rect x="434.20" y="92.42" width="25.70" height="1.70" fill="#ebd9a2" stroke="none" stroke-width="1"/>
<rect x="459.90" y="92.42" width="25.80" height="1.70" fill="#b3cddf" stroke="none" stroke-width="1"/>
<rect x="485.70" y="92.42" width="25.80" height="1.70" fill="#9dbbd7" stroke="none" stroke-width="1"/>
<rect x="511.50" y="92.42" width="25.30" height="1.70" fill="#89abcf" stroke="none" stroke-width="1"/>
<rect x="383.00" y="94.06" width="25.50" height="1.70" fill="#e4a371" stroke="none" stroke-width="1"/>
<rect x="408.50" y="94.06" width="25.70" height="1.70" fill="#e7b985" stroke="none" stroke-width="1"/>
<rect x="434.20" y="94.06" width="25.70" height="1.70" fill="#ebdca5" stroke="none" stroke-width="1"/>
<rect x="459.90" y="94.06" width="25.80" height="1.70" fill="#eace98" stroke="none" stroke-width="1"/>
<rect x="485.70" y="94.06" width="25.80" height="1.70" fill="#d2e2e5" stroke="none" stroke-width="1"/>
<rect x="511.50" y="94.06" width="25.30" height="1.70" fill="#cadde4" stroke="none" stroke-width="1"/>
<rect x="383.00" y="95.71" width="25.50" height="1.70" fill="#da7a56" stroke="none" stroke-width="1"/>
<rect x="408.50" y="95.71" width="25.70" height="1.70" fill="#ebd7a0" stroke="none" stroke-width="1"/>
<rect x="434.20" y="95.71" width="25.70" height="1.70" fill="#d7e5de" stroke="none" stroke-width="1"/>
<rect x="459.90" y="95.71" width="25.80" height="1.70" fill="#edeab3" stroke="none" stroke-width="1"/>
<rect x="485.70" y="95.71" width="25.80" height="1.70" fill="#bbd3e1" stroke="none" stroke-width="1"/>
<rect x="511.50" y="95.71" width="25.30" height="1.70" fill="#dbe6d6" stroke="none" stroke-width="1"/>
<rect x="383.00" y="97.36" width="25.50" height="1.70" fill="#e29869" stroke="none" stroke-width="1"/>
<rect x="408.50" y="97.36" width="25.70" height="1.70" fill="#e39f6d" stroke="none" stroke-width="1"/>
<rect x="434.20" y="97.36" width="25.70" height="1.70" fill="#e6b581" stroke="none" stroke-width="1"/>
<rect x="459.90" y="97.36" width="25.80" height="1.70" fill="#87aace" stroke="none" stroke-width="1"/>
<rect x="485.70" y="97.36" width="25.80" height="1.70" fill="#dde7d3" stroke="none" stroke-width="1"/>
<rect x="511.50" y="97.36" width="25.30" height="1.70" fill="#a5c1da" stroke="none" stroke-width="1"/>
<rect x="383.00" y="99.01" width="25.50" height="1.70" fill="#e7b985" stroke="none" stroke-width="1"/>
<rect x="408.50" y="99.01" width="25.70" height="1.70" fill="#e9cb96" stroke="none" stroke-width="1"/>
<rect x="434.20" y="99.01" width="25.70" height="1.70" fill="#e6b581" stroke="none" stroke-width="1"/>
<rect x="459.90" y="99.01" width="25.80" height="1.70" fill="#ede5ad" stroke="none" stroke-width="1"/>
<rect x="485.70" y="99.01" width="25.80" height="1.70" fill="#e3e8c7" stroke="none" stroke-width="1"/>
<rect x="511.50" y="99.01" width="25.30" height="1.70" fill="#83a6cc" stroke="none" stroke-width="1"/>
<rect x="383.00" y="100.66" width="25.50" height="1.70" fill="#e6b481" stroke="none" stroke-width="1"/>
<rect x="408.50" y="100.66" width="25.70" height="1.70" fill="#dbe6d7" stroke="none" stroke-width="1"/>
<rect x="434.20" y="100.66" width="25.70" height="1.70" fill="#ead09a" stroke="none" stroke-width="1"/>
<rect x="459.90" y="100.66" width="25.80" height="1.70" fill="#eaeaba" stroke="none" stroke-width="1"/>
<rect x="485.70" y="100.66" width="25.80" height="1.70" fill="#bad2e1" stroke="none" stroke-width="1"/>
<rect x="511.50" y="100.66" width="25.30" height="1.70" fill="#c0d6e2" stroke="none" stroke-width="1"/>
<rect x="383.00" y="102.31" width="25.50" height="1.70" fill="#e39c6b" stroke="none" stroke-width="1"/>
<rect x="408.50" y="102.31" width="25.70" height="1.70" fill="#e39f6d" stroke="none" stroke-width="1"/>
<rect x="434.20" y="102.31" width="25.70" height="1.70" fill="#ede7b0" stroke="none" stroke-width="1"/>
<rect x="459.90" y="102.31" width="25.80" height="1.70" fill="#bdd4e1" stroke="none" stroke-width="1"/>
<rect x="485.70" y="102.31" width="25.80" height="1.70" fill="#bad2e1" stroke="none" stroke-width="1"/>
<rect x="511.50" y="102.31" width="25.30" height="1.70" fill="#e5e9c4" stroke="none" stroke-width="1"/>
<rect x="383.00" y="103.96" width="25.50" height="1.70" fill="#db7f59" stroke="none" stroke-width="1"/>
<rect x="408.50" y="103.96" width="25.70" height="1.70" fill="#e8c28d" stroke="none" stroke-width="1"/>
<rect x="434.20" y="103.96" width="25.70" height="1.70" fill="#e9c691" stroke="none" stroke-width="1"/>
<rect x="459.90" y="103.96" width="25.80" height="1.70" fill="#dce6d5" stroke="none" stroke-width="1"/>
<rect x="485.70" y="103.96" width="25.80" height="1.70" fill="#d2e3e5" stroke="none" stroke-width="1"/>
<rect x="511.50" y="103.96" width="25.30" height="1.70" fill="#b4cee0" stroke="none" stroke-width="1"/>
<rect x="383.00" y="105.61" width="25.50" height="1.70" fill="#e5ad7a" stroke="none" stroke-width="1"/>
<rect x="408.50" y="105.61" width="25.70" height="1.70" fill="#ede4ad" stroke="none" stroke-width="1"/>
<rect x="434.20" y="105.61" width="25.70" height="1.70" fill="#ece2aa" stroke="none" stroke-width="1"/>
<rect x="459.90" y="105.61" width="25.80" height="1.70" fill="#e8c590" stroke="none" stroke-width="1"/>
<rect x="485.70" y="105.61" width="25.80" height="1.70" fill="#d9e5da" stroke="none" stroke-width="1"/>
<rect x="511.50" y="105.61" width="25.30" height="1.70" fill="#bcd3e1" stroke="none" stroke-width="1"/>
<rect x="383.00" y="107.26" width="25.50" height="1.70" fill="#e5aa77" stroke="none" stroke-width="1"/>
<rect x="408.50" y="107.26" width="25.70" height="1.70" fill="#e7bc88" stroke="none" stroke-width="1"/>
<rect x="434.20" y="107.26" width="25.70" height="1.70" fill="#e8c28d" stroke="none" stroke-width="1"/>
<rect x="459.90" y="107.26" width="25.80" height="1.70" fill="#c3d8e2" stroke="none" stroke-width="1"/>
<rect x="485.70" y="107.26" width="25.80" height="1.70" fill="#d2e3e5" stroke="none" stroke-width="1"/>
<rect x="511.50" y="107.26" width="25.30" height="1.70" fill="#c0d6e2" stroke="none" stroke-width="1"/>
<rect x="383.00" y="108.91" width="25.50" height="1.70" fill="#e7b985" stroke="none" stroke-width="1"/>
<rect x="408.50" y="108.91" width="25.70" height="1.70" fill="#ebd6a0" stroke="none" stroke-width="1"/>
<rect x="434.20" y="108.91" width="25.70" height="1.70" fill="#ecebb5" stroke="none" stroke-width="1"/>
<rect x="459.90" y="108.91" width="25.80" height="1.70" fill="#b4cee0" stroke="none" stroke-width="1"/>
<rect x="485.70" y="108.91" width="25.80" height="1.70" fill="#e1e8cc" stroke="none" stroke-width="1"/>
<rect x="511.50" y="108.91" width="25.30" height="1.70" fill="#6a93c3" stroke="none" stroke-width="1"/>
<rect x="383.00" y="110.55" width="25.50" height="1.70" fill="#e5ab78" stroke="none" stroke-width="1"/>
<rect x="408.50" y="110.55" width="25.70" height="1.70" fill="#ead09b" stroke="none" stroke-width="1"/>
<rect x="434.20" y="110.55" width="25.70" height="1.70" fill="#ece1aa" stroke="none" stroke-width="1"/>
<rect x="459.90" y="110.55" width="25.80" height="1.70" fill="#dbe6d6" stroke="none" stroke-width="1"/>
<rect x="485.70" y="110.55" width="25.80" height="1.70" fill="#e6e9c2" stroke="none" stroke-width="1"/>
<rect x="511.50" y="110.55" width="25.30" height="1.70" fill="#bcd3e1" stroke="none" stroke-width="1"/>
<rect x="383.00" y="112.20" width="25.50" height="1.70" fill="#e5a775" stroke="none" stroke-width="1"/>
<rect x="408.50" y="112.20" width="25.70" height="1.70" fill="#ead19b" stroke="none" stroke-width="1"/>
<rect x="434.20" y="112.20" width="25.70" height="1.70" fill="#ead19b" stroke="none" stroke-width="1"/>
<rect x="459.90" y="112.20" width="25.80" height="1.70" fill="#ece4ac" stroke="none" stroke-width="1"/>
<rect x="485.70" y="112.20" width="25.80" height="1.70" fill="#c3d8e2" stroke="none" stroke-width="1"/>
<rect x="511.50" y="112.20" width="25.30" height="1.70" fill="#94b4d3" stroke="none" stroke-width="1"/>
<rect x="383.00" y="113.85" width="25.50" height="1.70" fill="#e9c893" stroke="none" stroke-width="1"/>
<rect x="408.50" y="113.85" width="25.70" height="1.70" fill="#ece0a8" stroke="none" stroke-width="1"/>
<rect x="434.20" y="113.85" width="25.70" height="1.70" fill="#e4e9c6" stroke="none" stroke-width="1"/>
<rect x="459.90" y="113.85" width="25.80" height="1.70" fill="#ebdca5" stroke="none" stroke-width="1"/>
<rect x="485.70" y="113.85" width="25.80" height="1.70" fill="#d6e4e1" stroke="none" stroke-width="1"/>
<rect x="511.50" y="113.85" width="25.30" height="1.70" fill="#b4cee0" stroke="none" stroke-width="1"/>
<rect x="383.00" y="115.50" width="25.50" height="1.70" fill="#d77251" stroke="none" stroke-width="1"/>
<rect x="408.50" y="115.50" width="25.70" height="1.70" fill="#ead29c" stroke="none" stroke-width="1"/>
<rect x="434.20" y="115.50" width="25.70" height="1.70" fill="#e6b581" stroke="none" stroke-width="1"/>
<rect x="459.90" y="115.50" width="25.80" height="1.70" fill="#ede8b1" stroke="none" stroke-width="1"/>
<rect x="485.70" y="115.50" width="25.80" height="1.70" fill="#a2bfd9" stroke="none" stroke-width="1"/>
<rect x="511.50" y="115.50" width="25.30" height="1.70" fill="#86a9ce" stroke="none" stroke-width="1"/>
<rect x="383.00" y="117.15" width="25.50" height="1.70" fill="#adc8dd" stroke="none" stroke-width="1"/>
<rect x="408.50" y="117.15" width="25.70" height="1.70" fill="#dbe6d6" stroke="none" stroke-width="1"/>
<rect x="434.20" y="117.15" width="25.70" height="1.70" fill="#e1e8cc" stroke="none" stroke-width="1"/>
<rect x="459.90" y="117.15" width="25.80" height="1.70" fill="#d8e5dd" stroke="none" stroke-width="1"/>
<rect x="485.70" y="117.15" width="25.80" height="1.70" fill="#df8e63" stroke="none" stroke-width="1"/>
<rect x="511.50" y="117.15" width="25.30" height="1.70" fill="#e19768" stroke="none" stroke-width="1"/>
<rect x="383.00" y="118.80" width="25.50" height="1.70" fill="#bad2e1" stroke="none" stroke-width="1"/>
<rect x="408.50" y="118.80" width="25.70" height="1.70" fill="#c1d7e2" stroke="none" stroke-width="1"/>
<rect x="434.20" y="118.80" width="25.70" height="1.70" fill="#c3d8e2" stroke="none" stroke-width="1"/>
<rect x="459.90" y="118.80" width="25.80" height="1.70" fill="#c6dae3" stroke="none" stroke-width="1"/>
<rect x="485.70" y="118.80" width="25.80" height="1.70" fill="#ead29c" stroke="none" stroke-width="1"/>
<rect x="511.50" y="118.80" width="25.30" height="1.70" fill="#e6b27f" stroke="none" stroke-width="1"/>
<rect x="383.00" y="120.45" width="25.50" height="1.70" fill="#ccdee4" stroke="none" stroke-width="1"/>
<rect x="408.50" y="120.45" width="25.70" height="1.70" fill="#edebb3" stroke="none" stroke-width="1"/>
<rect x="434.20" y="120.45" width="25.70" height="1.70" fill="#ebdba5" stroke="none" stroke-width="1"/>
<rect x="459.90" y="120.45" width="25.80" height="1.70" fill="#ede9b1" stroke="none" stroke-width="1"/>
<rect x="485.70" y="120.45" width="25.80" height="1.70" fill="#ede9b2" stroke="none" stroke-width="1"/>
<rect x="511.50" y="120.45" width="25.30" height="1.70" fill="#e19869" stroke="none" stroke-width="1"/>
<rect x="383.00" y="122.10" width="25.50" height="1.70" fill="#adc8dd" stroke="none" stroke-width="1"/>
<rect x="408.50" y="122.10" width="25.70" height="1.70" fill="#ecebb6" stroke="none" stroke-width="1"/>
<rect x="434.20" y="122.10" width="25.70" height="1.70" fill="#d5e4e3" stroke="none" stroke-width="1"/>
<rect x="459.90" y="122.10" width="25.80" height="1.70" fill="#e5e9c4" stroke="none" stroke-width="1"/>
<rect x="485.70" y="122.10" width="25.80" height="1.70" fill="#e09365" stroke="none" stroke-width="1"/>
<rect x="511.50" y="122.10" width="25.30" height="1.70" fill="#d87653" stroke="none" stroke-width="1"/>
<rect x="383.00" y="123.75" width="25.50" height="1.70" fill="#9bbad6" stroke="none" stroke-width="1"/>
<rect x="408.50" y="123.75" width="25.70" height="1.70" fill="#c2d7e2" stroke="none" stroke-width="1"/>
<rect x="434.20" y="123.75" width="25.70" height="1.70" fill="#c4d9e3" stroke="none" stroke-width="1"/>
<rect x="459.90" y="123.75" width="25.80" height="1.70" fill="#ebdca5" stroke="none" stroke-width="1"/>
<rect x="485.70" y="123.75" width="25.80" height="1.70" fill="#e5ae7b" stroke="none" stroke-width="1"/>
<rect x="511.50" y="123.75" width="25.30" height="1.70" fill="#e19567" stroke="none" stroke-width="1"/>
<rect x="383.00" y="125.39" width="25.50" height="1.70" fill="#c5dae3" stroke="none" stroke-width="1"/>
<rect x="408.50" y="125.39" width="25.70" height="1.70" fill="#c1d6e2" stroke="none" stroke-width="1"/>
<rect x="434.20" y="125.39" width="25.70" height="1.70" fill="#b7d0e0" stroke="none" stroke-width="1"/>
<rect x="459.90" y="125.39" width="25.80" height="1.70" fill="#e4a370" stroke="none" stroke-width="1"/>
<rect x="485.70" y="125.39" width="25.80" height="1.70" fill="#e4a774" stroke="none" stroke-width="1"/>
<rect x="511.50" y="125.39" width="25.30" height="1.70" fill="#d97956" stroke="none" stroke-width="1"/>
<rect x="383.00" y="127.04" width="25.50" height="1.70" fill="#9cbad6" stroke="none" stroke-width="1"/>
<rect x="408.50" y="127.04" width="25.70" height="1.70" fill="#c9dce3" stroke="none" stroke-width="1"/>
<rect x="434.20" y="127.04" width="25.70" height="1.70" fill="#d9e5db" stroke="none" stroke-width="1"/>
<rect x="459.90" y="127.04" width="25.80" height="1.70" fill="#d6e4e0" stroke="none" stroke-width="1"/>
<rect x="485.70" y="127.04" width="25.80" height="1.70" fill="#de8d62" stroke="none" stroke-width="1"/>
<rect x="511.50" y="127.04" width="25.30" height="1.70" fill="#e19768" stroke="none" stroke-width="1"/>
<rect x="383.00" y="128.69" width="25.50" height="1.70" fill="#cadde4" stroke="none" stroke-width="1"/>
<rect x="408.50" y="128.69" width="25.70" height="1.70" fill="#c9dce4" stroke="none" stroke-width="1"/>
<rect x="434.20" y="128.69" width="25.70" height="1.70" fill="#cee0e4" stroke="none" stroke-width="1"/>
<rect x="459.90" y="128.69" width="25.80" height="1.70" fill="#e5af7b" stroke="none" stroke-width="1"/>
<rect x="485.70" y="128.69" width="25.80" height="1.70" fill="#e8bf8b" stroke="none" stroke-width="1"/>
<rect x="511.50" y="128.69" width="25.30" height="1.70" fill="#ce513c" stroke="none" stroke-width="1"/>
<rect x="383.00" y="130.34" width="25.50" height="1.70" fill="#b1ccdf" stroke="none" stroke-width="1"/>
<rect x="408.50" y="130.34" width="25.70" height="1.70" fill="#bad2e1" stroke="none" stroke-width="1"/>
<rect x="434.20" y="130.34" width="25.70" height="1.70" fill="#d7e5df" stroke="none" stroke-width="1"/>
<rect x="459.90" y="130.34" width="25.80" height="1.70" fill="#dce6d5" stroke="none" stroke-width="1"/>
<rect x="485.70" y="130.34" width="25.80" height="1.70" fill="#e8be8a" stroke="none" stroke-width="1"/>
<rect x="511.50" y="130.34" width="25.30" height="1.70" fill="#d5684b" stroke="none" stroke-width="1"/>
<rect x="383.00" y="131.99" width="25.50" height="1.70" fill="#d9e5db" stroke="none" stroke-width="1"/>
<rect x="408.50" y="131.99" width="25.70" height="1.70" fill="#a7c3db" stroke="none" stroke-width="1"/>
<rect x="434.20" y="131.99" width="25.70" height="1.70" fill="#d4e4e5" stroke="none" stroke-width="1"/>
<rect x="459.90" y="131.99" width="25.80" height="1.70" fill="#e09366" stroke="none" stroke-width="1"/>
<rect x="485.70" y="131.99" width="25.80" height="1.70" fill="#dd895f" stroke="none" stroke-width="1"/>
<rect x="511.50" y="131.99" width="25.30" height="1.70" fill="#e09265" stroke="none" stroke-width="1"/>
<rect x="383.00" y="133.64" width="25.50" height="1.70" fill="#b5cfe0" stroke="none" stroke-width="1"/>
<rect x="408.50" y="133.64" width="25.70" height="1.70" fill="#c6dae3" stroke="none" stroke-width="1"/>
<rect x="434.20" y="133.64" width="25.70" height="1.70" fill="#b1ccdf" stroke="none" stroke-width="1"/>
<rect x="459.90" y="133.64" width="25.80" height="1.70" fill="#ede6af" stroke="none" stroke-width="1"/>
<rect x="485.70" y="133.64" width="25.80" height="1.70" fill="#e7b885" stroke="none" stroke-width="1"/>
<rect x="511.50" y="133.64" width="25.30" height="1.70" fill="#df8e63" stroke="none" stroke-width="1"/>
<rect x="383.00" y="135.29" width="25.50" height="1.70" fill="#d9e5dc" stroke="none" stroke-width="1"/>
<rect x="408.50" y="135.29" width="25.70" height="1.70" fill="#c7dbe3" stroke="none" stroke-width="1"/>
<rect x="434.20" y="135.29" width="25.70" height="1.70" fill="#a9c5db" stroke="none" stroke-width="1"/>
<rect x="459.90" y="135.29" width="25.80" height="1.70" fill="#e6b481" stroke="none" stroke-width="1"/>
<rect x="485.70" y="135.29" width="25.80" height="1.70" fill="#ebd59f" stroke="none" stroke-width="1"/>
<rect x="511.50" y="135.29" width="25.30" height="1.70" fill="#e2996a" stroke="none" stroke-width="1"/>
<rect x="383.00" y="136.94" width="25.50" height="1.70" fill="#bfd5e2" stroke="none" stroke-width="1"/>
<rect x="408.50" y="136.94" width="25.70" height="1.70" fill="#c5dae3" stroke="none" stroke-width="1"/>
<rect x="434.20" y="136.94" width="25.70" height="1.70" fill="#b5cee0" stroke="none" stroke-width="1"/>
<rect x="459.90" y="136.94" width="25.80" height="1.70" fill="#ede6ae" stroke="none" stroke-width="1"/>
<rect x="485.70" y="136.94" width="25.80" height="1.70" fill="#d36348" stroke="none" stroke-width="1"/>
<rect x="511.50" y="136.94" width="25.30" height="1.70" fill="#e39f6d" stroke="none" stroke-width="1"/>
<rect x="383.00" y="138.59" width="25.50" height="1.70" fill="#bfd5e2" stroke="none" stroke-width="1"/>
<rect x="408.50" y="138.59" width="25.70" height="1.70" fill="#dfe7d0" stroke="none" stroke-width="1"/>
<rect x="434.20" y="138.59" width="25.70" height="1.70" fill="#d8e5de" stroke="none" stroke-width="1"/>
<rect x="459.90" y="138.59" width="25.80" height="1.70" fill="#e8bf8b" stroke="none" stroke-width="1"/>
<rect x="485.70" y="138.59" width="25.80" height="1.70" fill="#e19567" stroke="none" stroke-width="1"/>
<rect x="511.50" y="138.59" width="25.30" height="1.70" fill="#e9c893" stroke="none" stroke-width="1"/>
<rect x="383.00" y="140.24" width="25.50" height="1.70" fill="#afcade" stroke="none" stroke-width="1"/>
<rect x="408.50" y="140.24" width="25.70" height="1.70" fill="#cee0e5" stroke="none" stroke-width="1"/>
<rect x="434.20" y="140.24" width="25.70" height="1.70" fill="#d3e3e5" stroke="none" stroke-width="1"/>
<rect x="459.90" y="140.24" width="25.80" height="1.70" fill="#e5ab78" stroke="none" stroke-width="1"/>
<rect x="485.70" y="140.24" width="25.80" height="1.70" fill="#e4a471" stroke="none" stroke-width="1"/>
<rect x="511.50" y="140.24" width="25.30" height="1.70" fill="#e09265" stroke="none" stroke-width="1"/>
<rect x="383.00" y="141.88" width="25.50" height="1.70" fill="#c2d8e2" stroke="none" stroke-width="1"/>
<rect x="408.50" y="141.88" width="25.70" height="1.70" fill="#c8dbe3" stroke="none" stroke-width="1"/>
<rect x="434.20" y="141.88" width="25.70" height="1.70" fill="#cee0e5" stroke="none" stroke-width="1"/>
<rect x="459.90" y="141.88" width="25.80" height="1.70" fill="#e8c38e" stroke="none" stroke-width="1"/>
<rect x="485.70" y="141.88" width="25.80" height="1.70" fill="#e7bd89" stroke="none" stroke-width="1"/>
<rect x="511.50" y="141.88" width="25.30" height="1.70" fill="#e4a573" stroke="none" stroke-width="1"/>
<rect x="383.00" y="143.53" width="25.50" height="1.70" fill="#afcade" stroke="none" stroke-width="1"/>
<rect x="408.50" y="143.53" width="25.70" height="1.70" fill="#dee7d1" stroke="none" stroke-width="1"/>
<rect x="434.20" y="143.53" width="25.70" height="1.70" fill="#e0e7cd" stroke="none" stroke-width="1"/>
<rect x="459.90" y="143.53" width="25.80" height="1.70" fill="#e7b783" stroke="none" stroke-width="1"/>
<rect x="485.70" y="143.53" width="25.80" height="1.70" fill="#e19667" stroke="none" stroke-width="1"/>
<rect x="511.50" y="143.53" width="25.30" height="1.70" fill="#d66b4d" stroke="none" stroke-width="1"/>
<rect x="383.00" y="145.18" width="25.50" height="1.70" fill="#c2d7e2" stroke="none" stroke-width="1"/>
<rect x="408.50" y="145.18" width="25.70" height="1.70" fill="#d8e5de" stroke="none" stroke-width="1"/>
<rect x="434.20" y="145.18" width="25.70" height="1.70" fill="#b4cee0" stroke="none" stroke-width="1"/>
<rect x="459.90" y="145.18" width="25.80" height="1.70" fill="#ede4ad" stroke="none" stroke-width="1"/>
<rect x="485.70" y="145.18" width="25.80" height="1.70" fill="#e9ca95" stroke="none" stroke-width="1"/>
<rect x="511.50" y="145.18" width="25.30" height="1.70" fill="#d76f4f" stroke="none" stroke-width="1"/>
<rect x="383.00" y="146.83" width="25.50" height="1.70" fill="#b6cfe0" stroke="none" stroke-width="1"/>
<rect x="408.50" y="146.83" width="25.70" height="1.70" fill="#cadde4" stroke="none" stroke-width="1"/>
<rect x="434.20" y="146.83" width="25.70" height="1.70" fill="#d1e2e5" stroke="none" stroke-width="1"/>
<rect x="459.90" y="146.83" width="25.80" height="1.70" fill="#e5a976" stroke="none" stroke-width="1"/>
<rect x="485.70" y="146.83" width="25.80" height="1.70" fill="#e9cc96" stroke="none" stroke-width="1"/>
<rect x="511.50" y="146.83" width="25.30" height="1.70" fill="#e5a976" stroke="none" stroke-width="1"/>
<rect x="383.00" y="148.48" width="25.50" height="1.70" fill="#d2e3e5" stroke="none" stroke-width="1"/>
<rect x="408.50" y="148.48" width="25.70" height="1.70" fill="#b7d0e0" stroke="none" stroke-width="1"/>
<rect x="434.20" y="148.48" width="25.70" height="1.70" fill="#d3e3e5" stroke="none" stroke-width="1"/>
<rect x="459.90" y="148.48" width="25.80" height="1.70" fill="#e9eabc" stroke="none" stroke-width="1"/>
<rect x="485.70" y="148.48" width="25.80" height="1.70" fill="#e6b682" stroke="none" stroke-width="1"/>
<rect x="511.50" y="148.48" width="25.30" height="1.70" fill="#e8c48f" stroke="none" stroke-width="1"/>
<rect x="383.00" y="150.13" width="25.50" height="1.70" fill="#d0e1e5" stroke="none" stroke-width="1"/>
<rect x="408.50" y="150.13" width="25.70" height="1.70" fill="#c2d8e2" stroke="none" stroke-width="1"/>
<rect x="434.20" y="150.13" width="25.70" height="1.70" fill="#b7d0e0" stroke="none" stroke-width="1"/>
<rect x="459.90" y="150.13" width="25.80" height="1.70" fill="#de8a60" stroke="none" stroke-width="1"/>
<rect x="485.70" y="150.13" width="25.80" height="1.70" fill="#e29b6b" stroke="none" stroke-width="1"/>
<rect x="511.50" y="150.13" width="25.30" height="1.70" fill="#cc4636" stroke="none" stroke-width="1"/>
<rect x="383.00" y="151.78" width="25.50" height="1.70" fill="#cadde4" stroke="none" stroke-width="1"/>
<rect x="408.50" y="151.78" width="25.70" height="1.70" fill="#c5dae3" stroke="none" stroke-width="1"/>
<rect x="434.20" y="151.78" width="25.70" height="1.70" fill="#cbdee4" stroke="none" stroke-width="1"/>
<rect x="459.90" y="151.78" width="25.80" height="1.70" fill="#e39f6d" stroke="none" stroke-width="1"/>
<rect x="485.70" y="151.78" width="25.80" height="1.70" fill="#e6b380" stroke="none" stroke-width="1"/>
<rect x="511.50" y="151.78" width="25.30" height="1.70" fill="#d97955" stroke="none" stroke-width="1"/>
<rect x="383.00" y="153.43" width="25.50" height="1.70" fill="#ccdee4" stroke="none" stroke-width="1"/>
<rect x="408.50" y="153.43" width="25.70" height="1.70" fill="#bad2e1" stroke="none" stroke-width="1"/>
<rect x="434.20" y="153.43" width="25.70" height="1.70" fill="#ccdee4" stroke="none" stroke-width="1"/>
<rect x="459.90" y="153.43" width="25.80" height="1.70" fill="#ebebb9" stroke="none" stroke-width="1"/>
<rect x="485.70" y="153.43" width="25.80" height="1.70" fill="#ebdaa4" stroke="none" stroke-width="1"/>
<rect x="511.50" y="153.43" width="25.30" height="1.70" fill="#d56a4c" stroke="none" stroke-width="1"/>
<rect x="383.00" y="155.08" width="25.50" height="1.70" fill="#cfe1e5" stroke="none" stroke-width="1"/>
<rect x="408.50" y="155.08" width="25.70" height="1.70" fill="#cddfe4" stroke="none" stroke-width="1"/>
<rect x="434.20" y="155.08" width="25.70" height="1.70" fill="#b7d0e0" stroke="none" stroke-width="1"/>
<rect x="459.90" y="155.08" width="25.80" height="1.70" fill="#c0d6e2" stroke="none" stroke-width="1"/>
<rect x="485.70" y="155.08" width="25.80" height="1.70" fill="#e4a371" stroke="none" stroke-width="1"/>
<rect x="511.50" y="155.08" width="25.30" height="1.70" fill="#de8d62" stroke="none" stroke-width="1"/>
<rect x="383.00" y="156.73" width="25.50" height="1.70" fill="#99b8d5" stroke="none" stroke-width="1"/>
<rect x="408.50" y="156.73" width="25.70" height="1.70" fill="#cbdde4" stroke="none" stroke-width="1"/>
<rect x="434.20" y="156.73" width="25.70" height="1.70" fill="#a7c4db" stroke="none" stroke-width="1"/>
<rect x="459.90" y="156.73" width="25.80" height="1.70" fill="#ecdda6" stroke="none" stroke-width="1"/>
<rect x="485.70" y="156.73" width="25.80" height="1.70" fill="#e5ae7b" stroke="none" stroke-width="1"/>
<rect x="511.50" y="156.73" width="25.30" height="1.70" fill="#da7c58" stroke="none" stroke-width="1"/>
<rect x="383.00" y="158.37" width="25.50" height="1.70" fill="#c6dae3" stroke="none" stroke-width="1"/>
<rect x="408.50" y="158.37" width="25.70" height="1.70" fill="#cfe0e5" stroke="none" stroke-width="1"/>
<rect x="434.20" y="158.37" width="25.70" height="1.70" fill="#b1ccdf" stroke="none" stroke-width="1"/>
<rect x="459.90" y="158.37" width="25.80" height="1.70" fill="#edebb3" stroke="none" stroke-width="1"/>
<rect x="485.70" y="158.37" width="25.80" height="1.70" fill="#e8c38e" stroke="none" stroke-width="1"/>
<rect x="511.50" y="158.37" width="25.30" height="1.70" fill="#e09165" stroke="none" stroke-width="1"/>
<rect x="383.00" y="160.02" width="25.50" height="1.70" fill="#c7dbe3" stroke="none" stroke-width="1"/>
<rect x="408.50" y="160.02" width="25.70" height="1.70" fill="#d7e5df" stroke="none" stroke-width="1"/>
<rect x="434.20" y="160.02" width="25.70" height="1.70" fill="#e6e9c1" stroke="none" stroke-width="1"/>
<rect x="459.90" y="160.02" width="25.80" height="1.70" fill="#adc8dd" stroke="none" stroke-width="1"/>
<rect x="485.70" y="160.02" width="25.80" height="1.70" fill="#e4a673" stroke="none" stroke-width="1"/>
<rect x="511.50" y="160.02" width="25.30" height="1.70" fill="#df9064" stroke="none" stroke-width="1"/>
<rect x="383.00" y="161.67" width="25.50" height="1.70" fill="#ebebb9" stroke="none" stroke-width="1"/>
<rect x="408.50" y="161.67" width="25.70" height="1.70" fill="#dce6d5" stroke="none" stroke-width="1"/>
<rect x="434.20" y="161.67" width="25.70" height="1.70" fill="#a4c1d9" stroke="none" stroke-width="1"/>
<rect x="459.90" y="161.67" width="25.80" height="1.70" fill="#e9cd97" stroke="none" stroke-width="1"/>
<rect x="485.70" y="161.67" width="25.80" height="1.70" fill="#e8c38e" stroke="none" stroke-width="1"/>
<rect x="511.50" y="161.67" width="25.30" height="1.70" fill="#d46549" stroke="none" stroke-width="1"/>
<rect x="383.00" y="163.32" width="25.50" height="1.70" fill="#aac6dc" stroke="none" stroke-width="1"/>
<rect x="408.50" y="163.32" width="25.70" height="1.70" fill="#cadde4" stroke="none" stroke-width="1"/>
<rect x="434.20" y="163.32" width="25.70" height="1.70" fill="#c7dbe3" stroke="none" stroke-width="1"/>
<rect x="459.90" y="163.32" width="25.80" height="1.70" fill="#ece0a9" stroke="none" stroke-width="1"/>
<rect x="485.70" y="163.32" width="25.80" height="1.70" fill="#e8c590" stroke="none" stroke-width="1"/>
<rect x="511.50" y="163.32" width="25.30" height="1.70" fill="#e8c48f" stroke="none" stroke-width="1"/>
<rect x="383.00" y="164.97" width="25.50" height="1.70" fill="#cbdee4" stroke="none" stroke-width="1"/>
<rect x="408.50" y="164.97" width="25.70" height="1.70" fill="#dde6d4" stroke="none" stroke-width="1"/>
<rect x="434.20" y="164.97" width="25.70" height="1.70" fill="#c8dbe3" stroke="none" stroke-width="1"/>
<rect x="459.90" y="164.97" width="25.80" height="1.70" fill="#dde7d2" stroke="none" stroke-width="1"/>
<rect x="485.70" y="164.97" width="25.80" height="1.70" fill="#e5ac79" stroke="none" stroke-width="1"/>
<rect x="511.50" y="164.97" width="25.30" height="1.70" fill="#d87553" stroke="none" stroke-width="1"/>
<rect x="383.00" y="166.62" width="25.50" height="1.70" fill="#bed5e1" stroke="none" stroke-width="1"/>
<rect x="408.50" y="166.62" width="25.70" height="1.70" fill="#ccdee4" stroke="none" stroke-width="1"/>
<rect x="434.20" y="166.62" width="25.70" height="1.70" fill="#e3e8c8" stroke="none" stroke-width="1"/>
<rect x="459.90" y="166.62" width="25.80" height="1.70" fill="#dbe6d7" stroke="none" stroke-width="1"/>
<rect x="485.70" y="166.62" width="25.80" height="1.70" fill="#e8c48f" stroke="none" stroke-width="1"/>
<rect x="511.50" y="166.62" width="25.30" height="1.70" fill="#e9c691" stroke="none" stroke-width="1"/>
<rect x="383.00" y="168.27" width="25.50" height="1.70" fill="#b3cddf" stroke="none" stroke-width="1"/>
<rect x="408.50" y="168.27" width="25.70" height="1.70" fill="#bed4e1" stroke="none" stroke-width="1"/>
<rect x="434.20" y="168.27" width="25.70" height="1.70" fill="#b6cfe0" stroke="none" stroke-width="1"/>
<rect x="459.90" y="168.27" width="25.80" height="1.70" fill="#e6e9c2" stroke="none" stroke-width="1"/>
<rect x="485.70" y="168.27" width="25.80" height="1.70" fill="#d77251" stroke="none" stroke-width="1"/>
<rect x="511.50" y="168.27" width="25.30" height="1.70" fill="#df9064" stroke="none" stroke-width="1"/>
<rect x="383.00" y="169.92" width="25.50" height="1.70" fill="#bfd6e2" stroke="none" stroke-width="1"/>
<rect x="408.50" y="169.92" width="25.70" height="1.70" fill="#ede9b1" stroke="none" stroke-width="1"/>
<rect x="434.20" y="169.92" width="25.70" height="1.70" fill="#c8dce3" stroke="none" stroke-width="1"/>
<rect x="459.90" y="169.92" width="25.80" height="1.70" fill="#c9dce3" stroke="none" stroke-width="1"/>
<rect x="485.70" y="169.92" width="25.80" height="1.70" fill="#e4a673" stroke="none" stroke-width="1"/>
<rect x="511.50" y="169.92" width="25.30" height="1.70" fill="#e5a976" stroke="none" stroke-width="1"/>
<rect x="383.00" y="171.57" width="25.50" height="1.70" fill="#e0e7cd" stroke="none" stroke-width="1"/>
<rect x="408.50" y="171.57" width="25.70" height="1.70" fill="#b4cee0" stroke="none" stroke-width="1"/>
<rect x="434.20" y="171.57" width="25.70" height="1.70" fill="#bdd4e1" stroke="none" stroke-width="1"/>
<rect x="459.90" y="171.57" width="25.80" height="1.70" fill="#cddfe4" stroke="none" stroke-width="1"/>
<rect x="485.70" y="171.57" width="25.80" height="1.70" fill="#e6af7c" stroke="none" stroke-width="1"/>
<rect x="511.50" y="171.57" width="25.30" height="1.70" fill="#e5ab78" stroke="none" stroke-width="1"/>
<rect x="383.00" y="173.21" width="25.50" height="1.70" fill="#c0d6e2" stroke="none" stroke-width="1"/>
<rect x="408.50" y="173.21" width="25.70" height="1.70" fill="#c5d9e3" stroke="none" stroke-width="1"/>
<rect x="434.20" y="173.21" width="25.70" height="1.70" fill="#bdd4e1" stroke="none" stroke-width="1"/>
<rect x="459.90" y="173.21" width="25.80" height="1.70" fill="#e7b884" stroke="none" stroke-width="1"/>
<rect x="485.70" y="173.21" width="25.80" height="1.70" fill="#e09365" stroke="none" stroke-width="1"/>
<rect x="511.50" y="173.21" width="25.30" height="1.70" fill="#dd875e" stroke="none" stroke-width="1"/>
<rect x="383.00" y="174.86" width="25.50" height="1.70" fill="#aec9dd" stroke="none" stroke-width="1"/>
<rect x="408.50" y="174.86" width="25.70" height="1.70" fill="#b7d0e0" stroke="none" stroke-width="1"/>
<rect x="434.20" y="174.86" width="25.70" height="1.70" fill="#cfe0e5" stroke="none" stroke-width="1"/>
<rect x="459.90" y="174.86" width="25.80" height="1.70" fill="#da7c57" stroke="none" stroke-width="1"/>
<rect x="485.70" y="174.86" width="25.80" height="1.70" fill="#e8c18c" stroke="none" stroke-width="1"/>
<rect x="511.50" y="174.86" width="25.30" height="1.70" fill="#e4a472" stroke="none" stroke-width="1"/>
<rect x="383.00" y="176.51" width="25.50" height="1.70" fill="#b3cddf" stroke="none" stroke-width="1"/>
<rect x="408.50" y="176.51" width="25.70" height="1.70" fill="#b7d0e0" stroke="none" stroke-width="1"/>
<rect x="434.20" y="176.51" width="25.70" height="1.70" fill="#b5cfe0" stroke="none" stroke-width="1"/>
<rect x="459.90" y="176.51" width="25.80" height="1.70" fill="#ede4ad" stroke="none" stroke-width="1"/>
<rect x="485.70" y="176.51" width="25.80" height="1.70" fill="#db805a" stroke="none" stroke-width="1"/>
<rect x="511.50" y="176.51" width="25.30" height="1.70" fill="#de8960" stroke="none" stroke-width="1"/>
<rect x="383.00" y="178.16" width="25.50" height="1.70" fill="#b7d0e0" stroke="none" stroke-width="1"/>
<rect x="408.50" y="178.16" width="25.70" height="1.70" fill="#abc7dc" stroke="none" stroke-width="1"/>
<rect x="434.20" y="178.16" width="25.70" height="1.70" fill="#cedfe4" stroke="none" stroke-width="1"/>
<rect x="459.90" y="178.16" width="25.80" height="1.70" fill="#ecdda6" stroke="none" stroke-width="1"/>
<rect x="485.70" y="178.16" width="25.80" height="1.70" fill="#ebdaa3" stroke="none" stroke-width="1"/>
<rect x="511.50" y="178.16" width="25.30" height="1.70" fill="#e5ae7a" stroke="none" stroke-width="1"/>
<rect x="383.00" y="179.81" width="25.50" height="1.70" fill="#c1d7e2" stroke="none" stroke-width="1"/>
<rect x="408.50" y="179.81" width="25.70" height="1.70" fill="#dde6d3" stroke="none" stroke-width="1"/>
<rect x="434.20" y="179.81" width="25.70" height="1.70" fill="#d6e4e1" stroke="none" stroke-width="1"/>
<rect x="459.90" y="179.81" width="25.80" height="1.70" fill="#ead49e" stroke="none" stroke-width="1"/>
<rect x="485.70" y="179.81" width="25.80" height="1.70" fill="#e7bd89" stroke="none" stroke-width="1"/>
<rect x="511.50" y="179.81" width="25.30" height="1.70" fill="#da7d58" stroke="none" stroke-width="1"/>
<rect x="383.00" y="181.46" width="25.50" height="1.70" fill="#c1d7e2" stroke="none" stroke-width="1"/>
<rect x="408.50" y="181.46" width="25.70" height="1.70" fill="#ede9b1" stroke="none" stroke-width="1"/>
<rect x="434.20" y="181.46" width="25.70" height="1.70" fill="#b2ccdf" stroke="none" stroke-width="1"/>
<rect x="459.90" y="181.46" width="25.80" height="1.70" fill="#edeab2" stroke="none" stroke-width="1"/>
<rect x="485.70" y="181.46" width="25.80" height="1.70" fill="#dd865e" stroke="none" stroke-width="1"/>
<rect x="511.50" y="181.46" width="25.30" height="1.70" fill="#e09365" stroke="none" stroke-width="1"/>
<rect x="383.00" y="183.11" width="25.50" height="1.70" fill="#dde6d4" stroke="none" stroke-width="1"/>
<rect x="408.50" y="183.11" width="25.70" height="1.70" fill="#cbdee4" stroke="none" stroke-width="1"/>
<rect x="434.20" y="183.11" width="25.70" height="1.70" fill="#ccdfe4" stroke="none" stroke-width="1"/>
<rect x="459.90" y="183.11" width="25.80" height="1.70" fill="#edeab2" stroke="none" stroke-width="1"/>
<rect x="485.70" y="183.11" width="25.80" height="1.70" fill="#ecdfa8" stroke="none" stroke-width="1"/>
<rect x="511.50" y="183.11" width="25.30" height="1.70" fill="#e5aa77" stroke="none" stroke-width="1"/>
<rect x="383.00" y="184.76" width="25.50" height="1.70" fill="#eaeabb" stroke="none" stroke-width="1"/>
<rect x="408.50" y="184.76" width="25.70" height="1.70" fill="#d7e5de" stroke="none" stroke-width="1"/>
<rect x="434.20" y="184.76" width="25.70" height="1.70" fill="#d5e4e2" stroke="none" stroke-width="1"/>
<rect x="459.90" y="184.76" width="25.80" height="1.70" fill="#e7b884" stroke="none" stroke-width="1"/>
<rect x="485.70" y="184.76" width="25.80" height="1.70" fill="#e4a06e" stroke="none" stroke-width="1"/>
<rect x="511.50" y="184.76" width="25.30" height="1.70" fill="#d46449" stroke="none" stroke-width="1"/>
<rect x="383.00" y="186.41" width="25.50" height="1.70" fill="#bcd3e1" stroke="none" stroke-width="1"/>
<rect x="408.50" y="186.41" width="25.70" height="1.70" fill="#c8dbe3" stroke="none" stroke-width="1"/>
<rect x="434.20" y="186.41" width="25.70" height="1.70" fill="#dce6d6" stroke="none" stroke-width="1"/>
<rect x="459.90" y="186.41" width="25.80" height="1.70" fill="#edeab2" stroke="none" stroke-width="1"/>
<rect x="485.70" y="186.41" width="25.80" height="1.70" fill="#ecdda6" stroke="none" stroke-width="1"/>
<rect x="511.50" y="186.41" width="25.30" height="1.70" fill="#e09165" stroke="none" stroke-width="1"/>
<rect x="383.00" y="188.06" width="25.50" height="1.70" fill="#b6d0e0" stroke="none" stroke-width="1"/>
<rect x="408.50" y="188.06" width="25.70" height="1.70" fill="#d7e5df" stroke="none" stroke-width="1"/>
<rect x="434.20" y="188.06" width="25.70" height="1.70" fill="#bbd2e1" stroke="none" stroke-width="1"/>
<rect x="459.90" y="188.06" width="25.80" height="1.70" fill="#dce6d5" stroke="none" stroke-width="1"/>
<rect x="485.70" y="188.06" width="25.80" height="1.70" fill="#e7bd89" stroke="none" stroke-width="1"/>
<rect x="511.50" y="188.06" width="25.30" height="1.70" fill="#cf513d" stroke="none" stroke-width="1"/>
<rect x="383.00" y="189.70" width="25.50" height="1.70" fill="#c1d7e2" stroke="none" stroke-width="1"/>
<rect x="408.50" y="189.70" width="25.70" height="1.70" fill="#cfe0e5" stroke="none" stroke-width="1"/>
<rect x="434.20" y="189.70" width="25.70" height="1.70" fill="#c9dde4" stroke="none" stroke-width="1"/>
<rect x="459.90" y="189.70" width="25.80" height="1.70" fill="#ead19b" stroke="none" stroke-width="1"/>
<rect x="485.70" y="189.70" width="25.80" height="1.70" fill="#e09366" stroke="none" stroke-width="1"/>
<rect x="511.50" y="189.70" width="25.30" height="1.70" fill="#d05740" stroke="none" stroke-width="1"/>
<rect x="383.00" y="191.35" width="25.50" height="1.70" fill="#9ab9d6" stroke="none" stroke-width="1"/>
<rect x="408.50" y="191.35" width="25.70" height="1.70" fill="#e2e8c9" stroke="none" stroke-width="1"/>
<rect x="434.20" y="191.35" width="25.70" height="1.70" fill="#c9dce4" stroke="none" stroke-width="1"/>
<rect x="459.90" y="191.35" width="25.80" height="1.70" fill="#ede8b1" stroke="none" stroke-width="1"/>
<rect x="485.70" y="191.35" width="25.80" height="1.70" fill="#d15b43" stroke="none" stroke-width="1"/>
<rect x="511.50" y="191.35" width="25.30" height="1.70" fill="#df8f63" stroke="none" stroke-width="1"/>
<rect x="383.00" y="193.00" width="25.50" height="1.70" fill="#e5e9c3" stroke="none" stroke-width="1"/>
<rect x="408.50" y="193.00" width="25.70" height="1.70" fill="#dce6d4" stroke="none" stroke-width="1"/>
<rect x="434.20" y="193.00" width="25.70" height="1.70" fill="#b4cee0" stroke="none" stroke-width="1"/>
<rect x="459.90" y="193.00" width="25.80" height="1.70" fill="#e9ca94" stroke="none" stroke-width="1"/>
<rect x="485.70" y="193.00" width="25.80" height="1.70" fill="#e29a6a" stroke="none" stroke-width="1"/>
<rect x="511.50" y="193.00" width="25.30" height="1.70" fill="#df8e62" stroke="none" stroke-width="1"/>
<rect x="383.00" y="194.65" width="25.50" height="1.70" fill="#88abcf" stroke="none" stroke-width="1"/>
<rect x="408.50" y="194.65" width="25.70" height="1.70" fill="#c5dae3" stroke="none" stroke-width="1"/>
<rect x="434.20" y="194.65" width="25.70" height="1.70" fill="#c5dae3" stroke="none" stroke-width="1"/>
<rect x="459.90" y="194.65" width="25.80" height="1.70" fill="#dbe6d7" stroke="none" stroke-width="1"/>
<rect x="485.70" y="194.65" width="25.80" height="1.70" fill="#d77151" stroke="none" stroke-width="1"/>
<rect x="511.50" y="194.65" width="25.30" height="1.70" fill="#e09265" stroke="none" stroke-width="1"/>
<line x1="408.50" y1="38.00" x2="408.50" y2="196.30" stroke="#a8a8a8" stroke-width="0.5" stroke-linecap="butt"/>
<line x1="434.20" y1="38.00" x2="434.20" y2="196.30" stroke="#a8a8a8" stroke-width="0.5" stroke-linecap="butt"/>
<line x1="459.90" y1="38.00" x2="459.90" y2="196.30" stroke="#a8a8a8" stroke-width="0.5" stroke-linecap="butt"/>
<line x1="485.70" y1="38.00" x2="485.70" y2="196.30" stroke="#a8a8a8" stroke-width="0.5" stroke-linecap="butt"/>
<line x1="511.50" y1="38.00" x2="511.50" y2="196.30" stroke="#a8a8a8" stroke-width="0.5" stroke-linecap="butt"/>
<defs><linearGradient id="cb" x1="0" y1="0" x2="0" y2="1"><stop offset="0" stop-color="#d73027"/><stop offset="0.25" stop-color="#f29a5f"/><stop offset="0.5" stop-color="#f6f3b8"/><stop offset="0.75" stop-color="#c3dbe8"/><stop offset="1" stop-color="#4b7fbe"/></linearGradient>
<linearGradient id="pv" x1="0" y1="0" x2="0" y2="1"><stop offset="0" stop-color="#3b4da8"/><stop offset="0.35" stop-color="#8f33a6"/><stop offset="0.65" stop-color="#d2206e"/><stop offset="0.88" stop-color="#ec2832"/><stop offset="1" stop-color="#ee2a2e"/></linearGradient></defs>
<rect x="538.2" y="37.7" width="3.5" height="47.3" fill="url(#cb)" stroke="none" stroke-width="1"/>
<text x="543.2" y="44" font-size="8.3" text-anchor="start" font-weight="normal" font-style="normal" fill="#231f20"  class="sm">2</text>
<text x="543.2" y="54.4" font-size="8.3" text-anchor="start" font-weight="normal" font-style="normal" fill="#231f20"  class="sm">1</text>
<text x="543.2" y="64.3" font-size="8.3" text-anchor="start" font-weight="normal" font-style="normal" fill="#231f20"  class="sm">0</text>
<text x="543.2" y="75.4" font-size="8.3" text-anchor="start" font-weight="normal" font-style="normal" fill="#231f20"  class="sm">–1</text>
<text x="543.2" y="85.3" font-size="8.3" text-anchor="start" font-weight="normal" font-style="normal" fill="#231f20"  class="sm">–2</text>
<rect x="143.7" y="247.0" width="158.90000000000003" height="191.0" fill="none" stroke="#333" stroke-width="1.0"/>
<text x="223.5" y="245" font-size="11" text-anchor="middle" fill="#231f20"><tspan font-style="italic">Lyz2</tspan><tspan class="sp" font-size="6.16" dy="-3.96">cre</tspan><tspan font-style="italic" dy="3.96">Ei24</tspan><tspan class="sp" font-size="6.16" dy="-3.96">fl/fl</tspan><tspan dy="3.96"> versus </tspan><tspan font-style="italic">Ei24</tspan><tspan class="sp" font-size="6.16" dy="-3.96">fl/fl</tspan></text>
<line x1="141.50" y1="253.00" x2="143.70" y2="253.00" stroke="#333" stroke-width="0.8" stroke-linecap="butt"/>
<text x="140.8" y="254.9" font-size="8.2" text-anchor="end" font-weight="normal" font-style="normal" fill="#333"  class="sm">Phagosome</text>
<circle cx="295.40" cy="253.00" r="3.6" fill="#ec2a2e" />
<line x1="141.50" y1="262.94" x2="143.70" y2="262.94" stroke="#333" stroke-width="0.8" stroke-linecap="butt"/>
<text x="140.8" y="264.84" font-size="8.2" text-anchor="end" font-weight="normal" font-style="normal" fill="#333"  class="sm">Cell adhesion molecules</text>
<circle cx="295.40" cy="262.94" r="3.6" fill="#ec2a2e" />
<line x1="141.50" y1="272.88" x2="143.70" y2="272.88" stroke="#333" stroke-width="0.8" stroke-linecap="butt"/>
<text x="140.8" y="274.78" font-size="8.2" text-anchor="end" font-weight="normal" font-style="normal" fill="#333"  class="sm">Antigen processing and presentation</text>
<circle cx="295.40" cy="272.88" r="3.6" fill="#ec2a2e" />
<line x1="141.50" y1="282.82" x2="143.70" y2="282.82" stroke="#333" stroke-width="0.8" stroke-linecap="butt"/>
<text x="140.8" y="284.71999999999997" font-size="8.2" text-anchor="end" font-weight="normal" font-style="normal" fill="#333"  class="sm">Endocytosis</text>
<circle cx="282.80" cy="282.82" r="3.4" fill="#ec2a2e" />
<line x1="141.50" y1="292.76" x2="143.70" y2="292.76" stroke="#333" stroke-width="0.8" stroke-linecap="butt"/>
<text x="140.8" y="294.65999999999997" font-size="8.2" text-anchor="end" font-weight="normal" font-style="normal" fill="#333"  class="sm">Cytokine−cytokine receptor interaction</text>
<circle cx="282.80" cy="292.76" r="3.4" fill="#ec2a2e" />
<line x1="141.50" y1="302.70" x2="143.70" y2="302.70" stroke="#333" stroke-width="0.8" stroke-linecap="butt"/>
<text x="140.8" y="304.59999999999997" font-size="8.2" text-anchor="end" font-weight="normal" font-style="normal" fill="#333"  class="sm">Cellular senescence</text>
<circle cx="269.40" cy="302.70" r="3.2" fill="#ec2a2e" />
<line x1="141.50" y1="312.64" x2="143.70" y2="312.64" stroke="#333" stroke-width="0.8" stroke-linecap="butt"/>
<text x="140.8" y="314.53999999999996" font-size="8.2" text-anchor="end" font-weight="normal" font-style="normal" fill="#333"  class="sm">Efferocytosis</text>
<circle cx="256.40" cy="312.64" r="3.0" fill="#ec2a2e" />
<line x1="141.50" y1="322.58" x2="143.70" y2="322.58" stroke="#333" stroke-width="0.8" stroke-linecap="butt"/>
<text x="140.8" y="324.47999999999996" font-size="8.2" text-anchor="end" font-weight="normal" font-style="normal" fill="#333"  class="sm">Coronavirus disease − COVID−19</text>
<circle cx="256.40" cy="322.58" r="3.0" fill="#cc2a78" />
<line x1="141.50" y1="332.52" x2="143.70" y2="332.52" stroke="#333" stroke-width="0.8" stroke-linecap="butt"/>
<text x="140.8" y="334.41999999999996" font-size="8.2" text-anchor="end" font-weight="normal" font-style="normal" fill="#333"  class="sm">MAPK signaling pathway</text>
<circle cx="229.90" cy="332.52" r="2.8" fill="#3a4ea8" />
<line x1="141.50" y1="342.46" x2="143.70" y2="342.46" stroke="#333" stroke-width="0.8" stroke-linecap="butt"/>
<text x="140.8" y="344.35999999999996" font-size="8.2" text-anchor="end" font-weight="normal" font-style="normal" fill="#333"  class="sm">Influenza A</text>
<circle cx="216.70" cy="342.46" r="2.6" fill="#ea2a3c" />
<line x1="141.50" y1="352.40" x2="143.70" y2="352.40" stroke="#333" stroke-width="0.8" stroke-linecap="butt"/>
<text x="140.8" y="354.29999999999995" font-size="8.2" text-anchor="end" font-weight="normal" font-style="normal" fill="#333"  class="sm">TNF signaling pathway</text>
<circle cx="203.50" cy="352.40" r="2.35" fill="#ec2a2e" />
<line x1="141.50" y1="362.34" x2="143.70" y2="362.34" stroke="#333" stroke-width="0.8" stroke-linecap="butt"/>
<text x="140.8" y="364.23999999999995" font-size="8.2" text-anchor="end" font-weight="normal" font-style="normal" fill="#333"  class="sm">Th1 and Th2 cell differentiation</text>
<circle cx="203.50" cy="362.34" r="2.35" fill="#ec2a2e" />
<line x1="141.50" y1="372.28" x2="143.70" y2="372.28" stroke="#333" stroke-width="0.8" stroke-linecap="butt"/>
<text x="140.8" y="374.17999999999995" font-size="8.2" text-anchor="end" font-weight="normal" font-style="normal" fill="#333"  class="sm">NF−kappa B signaling pathway</text>
<circle cx="203.50" cy="372.28" r="2.35" fill="#ec2a2e" />
<line x1="141.50" y1="382.22" x2="143.70" y2="382.22" stroke="#333" stroke-width="0.8" stroke-linecap="butt"/>
<text x="140.8" y="384.12" font-size="8.2" text-anchor="end" font-weight="normal" font-style="normal" fill="#333"  class="sm">Necroptosis</text>
<circle cx="203.50" cy="382.22" r="2.35" fill="#cf2a86" />
<line x1="141.50" y1="392.16" x2="143.70" y2="392.16" stroke="#333" stroke-width="0.8" stroke-linecap="butt"/>
<text x="140.8" y="394.05999999999995" font-size="8.2" text-anchor="end" font-weight="normal" font-style="normal" fill="#333"  class="sm">JAK−STAT signaling pathway</text>
<circle cx="203.50" cy="392.16" r="2.35" fill="#d82a66" />
<line x1="141.50" y1="402.10" x2="143.70" y2="402.10" stroke="#333" stroke-width="0.8" stroke-linecap="butt"/>
<text x="140.8" y="404.0" font-size="8.2" text-anchor="end" font-weight="normal" font-style="normal" fill="#333"  class="sm">Apoptosis</text>
<circle cx="203.50" cy="402.10" r="2.35" fill="#ec2a2e" />
<line x1="141.50" y1="412.04" x2="143.70" y2="412.04" stroke="#333" stroke-width="0.8" stroke-linecap="butt"/>
<text x="140.8" y="413.93999999999994" font-size="8.2" text-anchor="end" font-weight="normal" font-style="normal" fill="#333"  class="sm">Hematopoietic cell lineage</text>
<circle cx="190.70" cy="412.04" r="2.1" fill="#ec2a2e" />
<line x1="141.50" y1="421.98" x2="143.70" y2="421.98" stroke="#333" stroke-width="0.8" stroke-linecap="butt"/>
<text x="140.8" y="423.88" font-size="8.2" text-anchor="end" font-weight="normal" font-style="normal" fill="#333"  class="sm">Cytosolic DNA−sensing pathway</text>
<circle cx="164.30" cy="421.98" r="1.85" fill="#4a46ac" />
<line x1="141.50" y1="431.92" x2="143.70" y2="431.92" stroke="#333" stroke-width="0.8" stroke-linecap="butt"/>
<text x="140.8" y="433.81999999999994" font-size="8.2" text-anchor="end" font-weight="normal" font-style="normal" fill="#333"  class="sm">Ferroptosis</text>
<circle cx="150.90" cy="431.92" r="1.05" fill="#a22aa8" />
<line x1="150.50" y1="438.00" x2="150.50" y2="439.50" stroke="#333" stroke-width="0.8" stroke-linecap="butt"/>
<text x="154.3" y="447.4" font-size="8.2" text-anchor="middle" font-weight="normal" font-style="normal" fill="#444"  class="sm">0.02</text>
<line x1="189.90" y1="438.00" x2="189.90" y2="439.50" stroke="#333" stroke-width="0.8" stroke-linecap="butt"/>
<text x="193.70000000000002" y="447.4" font-size="8.2" text-anchor="middle" font-weight="normal" font-style="normal" fill="#444"  class="sm">0.04</text>
<line x1="229.30" y1="438.00" x2="229.30" y2="439.50" stroke="#333" stroke-width="0.8" stroke-linecap="butt"/>
<text x="233.10000000000002" y="447.4" font-size="8.2" text-anchor="middle" font-weight="normal" font-style="normal" fill="#444"  class="sm">0.06</text>
<line x1="268.70" y1="438.00" x2="268.70" y2="439.50" stroke="#333" stroke-width="0.8" stroke-linecap="butt"/>
<text x="272.5" y="447.4" font-size="8.2" text-anchor="middle" font-weight="normal" font-style="normal" fill="#444"  class="sm">0.08</text>
<text x="223.5" y="458" font-size="11" text-anchor="middle" font-weight="normal" font-style="normal" fill="#231f20" >GeneRatio</text>
<text x="305.1" y="297.1" font-size="8.6" text-anchor="start" font-weight="normal" font-style="normal" fill="#222"  class="sm">Count</text>
<circle cx="309.20" cy="303.80" r="0.8" fill="#111" />
<text x="315.8" y="306.8" font-size="8.6" text-anchor="start" font-weight="normal" font-style="normal" fill="#231f20"  class="sm">3</text>
<circle cx="309.20" cy="312.20" r="2.3" fill="#111" />
<text x="315.8" y="315.2" font-size="8.6" text-anchor="start" font-weight="normal" font-style="normal" fill="#231f20"  class="sm">6</text>
<circle cx="309.20" cy="320.50" r="2.8" fill="#111" />
<text x="315.8" y="323.5" font-size="8.6" text-anchor="start" font-weight="normal" font-style="normal" fill="#231f20"  class="sm">9</text>
<circle cx="309.20" cy="329.00" r="3.4" fill="#111" />
<text x="315.8" y="332" font-size="8.6" text-anchor="start" font-weight="normal" font-style="normal" fill="#231f20"  class="sm">12</text>
<text x="305.1" y="348.4" font-size="8.6" text-anchor="start" font-weight="normal" font-style="normal" fill="#222"  class="sm">pvalue</text>
<rect x="305.1" y="351.8" width="8.0" height="40.9" fill="url(#pv)" stroke="none" stroke-width="1"/>
<line x1="305.10" y1="361.00" x2="306.60" y2="361.00" stroke="#fff" stroke-width="0.7" stroke-linecap="butt"/>
<line x1="311.60" y1="361.00" x2="313.10" y2="361.00" stroke="#fff" stroke-width="0.7" stroke-linecap="butt"/>
<text x="316" y="364" font-size="8.6" text-anchor="start" font-weight="normal" font-style="normal" fill="#231f20"  class="sm">0.03</text>
<line x1="305.10" y1="371.50" x2="306.60" y2="371.50" stroke="#fff" stroke-width="0.7" stroke-linecap="butt"/>
<line x1="311.60" y1="371.50" x2="313.10" y2="371.50" stroke="#fff" stroke-width="0.7" stroke-linecap="butt"/>
<text x="316" y="374.5" font-size="8.6" text-anchor="start" font-weight="normal" font-style="normal" fill="#231f20"  class="sm">0.02</text>
<line x1="305.10" y1="382.10" x2="306.60" y2="382.10" stroke="#fff" stroke-width="0.7" stroke-linecap="butt"/>
<line x1="311.60" y1="382.10" x2="313.10" y2="382.10" stroke="#fff" stroke-width="0.7" stroke-linecap="butt"/>
<text x="316" y="385.1" font-size="8.6" text-anchor="start" font-weight="normal" font-style="normal" fill="#231f20"  class="sm">0.01</text>
<text x="344.6" y="263.8" font-size="10.7" text-anchor="start" font-weight="normal" font-style="normal" fill="#231f20" >PBS</text>
<defs><linearGradient id="bg" x1="0" y1="0" x2="1" y2="0.6"><stop offset="0" stop-color="#dadfdd"/><stop offset="0.4" stop-color="#e5e8e7"/><stop offset="0.8" stop-color="#eceeed"/><stop offset="1" stop-color="#e2e5e4"/></linearGradient>
<filter id="bl" x="-30%" y="-30%" width="160%" height="160%"><feGaussianBlur stdDeviation="0.7"/></filter>
<filter id="bl2" x="-30%" y="-30%" width="160%" height="160%"><feGaussianBlur stdDeviation="1.6"/></filter></defs>
<rect x="344.4" y="268.8" width="239" height="128.8" fill="url(#bg)" stroke="none" stroke-width="1"/>
<defs><filter id="mt0" color-interpolation-filters="sRGB" x="-20%" y="-20%" width="140%" height="140%"><feTurbulence type="fractalNoise" baseFrequency="0.34" numOctaves="2" seed="2" result="n"/><feColorMatrix in="n" type="matrix" values="1 0 0 0 0 1 0 0 0 0 1 0 0 0 0 0 0 0 0 1" result="g"/><feComponentTransfer in="g" result="c"><feFuncR type="table" tableValues="0.070 0.070 0.070 0.070 0.100 0.300 0.550 0.600 0.600"/><feFuncG type="table" tableValues="0.045 0.045 0.045 0.045 0.050 0.120 0.280 0.340 0.340"/><feFuncB type="table" tableValues="0.060 0.060 0.060 0.060 0.070 0.160 0.330 0.400 0.400"/></feComponentTransfer><feComposite in="c" in2="SourceGraphic" operator="in" result="m"/><feGaussianBlur in="m" stdDeviation="0.45"/></filter><filter id="mt1" color-interpolation-filters="sRGB" x="-20%" y="-20%" width="140%" height="140%"><feTurbulence type="fractalNoise" baseFrequency="0.34" numOctaves="2" seed="7" result="n"/><feColorMatrix in="n" type="matrix" values="1 0 0 0 0 1 0 0 0 0 1 0 0 0 0 0 0 0 0 1" result="g"/><feComponentTransfer in="g" result="c"><feFuncR type="table" tableValues="0.070 0.070 0.070 0.080 0.150 0.450 0.660 0.720 0.720"/><feFuncG type="table" tableValues="0.045 0.045 0.045 0.050 0.060 0.200 0.360 0.420 0.420"/><feFuncB type="table" tableValues="0.060 0.060 0.060 0.065 0.080 0.250 0.420 0.480 0.480"/></feComponentTransfer><feComposite in="c" in2="SourceGraphic" operator="in" result="m"/><feGaussianBlur in="m" stdDeviation="0.45"/></filter><filter id="mt2" color-interpolation-filters="sRGB" x="-20%" y="-20%" width="140%" height="140%"><feTurbulence type="fractalNoise" baseFrequency="0.34" numOctaves="2" seed="12" result="n"/><feColorMatrix in="n" type="matrix" values="1 0 0 0 0 1 0 0 0 0 1 0 0 0 0 0 0 0 0 1" result="g"/><feComponentTransfer in="g" result="c"><feFuncR type="table" tableValues="0.080 0.080 0.090 0.200 0.550 0.740 0.800 0.840 0.840"/><feFuncG type="table" tableValues="0.045 0.045 0.050 0.070 0.220 0.360 0.440 0.500 0.500"/><feFuncB type="table" tableValues="0.060 0.060 0.065 0.100 0.280 0.410 0.500 0.560 0.560"/></feComponentTransfer><feComposite in="c" in2="SourceGraphic" operator="in" result="m"/><feGaussianBlur in="m" stdDeviation="0.45"/></filter></defs>
<path d="M377.9,284.2 L378.0,285.8 L378.1,287.5 L377.8,289.2 L377.1,290.9 L376.2,292.5 L375.1,294.0 L373.9,295.5 L372.3,296.8 L370.5,297.8 L368.4,298.2 L366.3,298.0 L364.3,297.7 L362.3,297.8 L360.2,298.0 L358.2,297.6 L356.4,296.6 L354.9,295.3 L353.6,293.8 L352.4,292.4 L351.1,291.1 L349.7,289.7 L348.6,288.0 L348.0,286.1 L348.1,284.2 L348.9,282.4 L349.8,280.7 L350.9,279.2 L351.8,277.7 L352.9,276.3 L354.1,275.0 L355.6,273.9 L357.1,272.9 L358.7,272.0 L360.5,271.4 L362.4,271.4 L364.3,271.5 L366.3,270.7 L368.5,270.1 L370.7,270.3 L372.8,271.0 L374.7,271.9 L376.5,273.2 L377.8,274.9 L378.4,276.9 L378.4,278.9 L378.1,280.9 L377.8,282.6Z" fill="#7a2c3c" filter="url(#bl)"/>
<path d="M377.4,284.2 L377.6,285.8 L377.6,287.4 L377.3,289.1 L376.7,290.7 L375.8,292.2 L374.8,293.6 L373.6,295.1 L372.1,296.3 L370.3,297.3 L368.3,297.7 L366.2,297.5 L364.3,297.2 L362.4,297.4 L360.3,297.5 L358.4,297.1 L356.6,296.2 L355.2,294.9 L354.0,293.5 L352.8,292.1 L351.5,290.8 L350.2,289.5 L349.1,287.9 L348.5,286.1 L348.7,284.2 L349.3,282.4 L350.3,280.8 L351.3,279.3 L352.2,277.9 L353.3,276.6 L354.5,275.4 L355.9,274.3 L357.3,273.3 L358.9,272.5 L360.6,271.9 L362.5,271.9 L364.3,271.9 L366.2,271.2 L368.4,270.6 L370.5,270.8 L372.5,271.4 L374.4,272.4 L376.1,273.6 L377.3,275.2 L377.9,277.1 L377.9,279.1 L377.6,281.0 L377.4,282.6Z" fill="#000" filter="url(#mt1)"/>
<ellipse cx="417.5" cy="299.8" rx="4.4" ry="1.8" fill="#d9b5b8" opacity="0.5" filter="url(#bl2)"/>
<path d="M429.3,287.7 L428.9,289.6 L428.0,291.3 L426.9,292.9 L426.0,294.5 L425.2,296.2 L424.3,297.9 L423.0,299.5 L421.3,300.7 L419.2,301.3 L417.0,301.3 L414.9,300.7 L413.0,300.1 L411.2,300.1 L409.3,300.1 L407.5,299.6 L405.9,298.8 L404.3,298.0 L402.6,297.1 L401.0,296.0 L399.5,294.8 L398.3,293.2 L397.6,291.4 L397.2,289.6 L396.9,287.7 L396.6,285.8 L396.5,283.7 L396.9,281.7 L398.1,279.9 L399.8,278.6 L401.9,277.7 L404.0,277.1 L405.9,276.6 L407.6,276.0 L409.4,275.7 L411.3,276.0 L413.0,276.3 L414.7,275.7 L416.8,275.0 L418.8,275.0 L420.8,275.6 L422.5,276.5 L424.1,277.7 L425.4,279.1 L426.4,280.7 L427.5,282.3 L428.4,284.0 L429.1,285.8Z" fill="#7a2c3c" filter="url(#bl)"/>
<path d="M428.8,287.7 L428.3,289.5 L427.5,291.2 L426.5,292.7 L425.6,294.2 L424.8,295.9 L423.9,297.6 L422.7,299.1 L421.1,300.2 L419.0,300.8 L416.9,300.8 L414.8,300.2 L413.0,299.7 L411.3,299.6 L409.5,299.6 L407.7,299.2 L406.1,298.4 L404.6,297.6 L403.0,296.7 L401.4,295.7 L399.9,294.5 L398.8,293.0 L398.1,291.3 L397.7,289.5 L397.4,287.7 L397.1,285.8 L397.1,283.9 L397.5,281.9 L398.5,280.2 L400.3,278.9 L402.3,278.1 L404.3,277.5 L406.1,277.0 L407.8,276.4 L409.5,276.1 L411.4,276.4 L413.0,276.7 L414.7,276.2 L416.6,275.5 L418.6,275.5 L420.5,276.0 L422.2,276.9 L423.7,278.0 L425.0,279.4 L426.0,280.9 L427.0,282.5 L427.9,284.1 L428.6,285.9Z" fill="#000" filter="url(#mt1)"/>
<ellipse cx="469.3" cy="299.2" rx="3.4" ry="2.2" fill="#d9b5b8" opacity="0.5" filter="url(#bl2)"/>
<path d="M483.3,288.4 L483.2,290.1 L483.0,291.7 L482.6,293.4 L481.8,295.0 L480.6,296.4 L479.1,297.5 L477.4,298.5 L475.8,299.3 L474.0,300.1 L472.1,300.4 L470.1,300.1 L468.3,299.6 L466.6,299.4 L464.8,299.5 L462.9,299.4 L460.9,299.2 L459.0,298.7 L457.4,297.6 L456.3,296.2 L455.7,294.6 L455.3,293.0 L454.8,291.5 L454.2,290.0 L453.7,288.4 L453.6,286.8 L454.0,285.1 L454.7,283.6 L455.5,282.1 L456.4,280.6 L457.5,279.2 L458.9,278.0 L460.6,277.1 L462.5,276.5 L464.5,276.5 L466.5,277.0 L468.3,277.3 L470.1,276.7 L472.1,276.4 L473.8,277.1 L475.2,278.3 L476.3,279.5 L477.5,280.6 L478.9,281.5 L480.5,282.4 L481.9,283.6 L482.8,285.1 L483.2,286.7Z" fill="#7a2c3c" filter="url(#bl)"/>
<path d="M482.8,288.4 L482.7,290.0 L482.5,291.6 L482.2,293.2 L481.4,294.8 L480.2,296.1 L478.7,297.2 L477.1,298.1 L475.5,298.9 L473.8,299.6 L472.0,299.9 L470.1,299.6 L468.3,299.1 L466.6,299.0 L464.9,299.0 L463.1,299.0 L461.2,298.8 L459.3,298.3 L457.8,297.3 L456.7,295.9 L456.1,294.3 L455.7,292.8 L455.2,291.3 L454.7,289.9 L454.2,288.4 L454.1,286.8 L454.5,285.3 L455.1,283.8 L455.9,282.4 L456.8,281.0 L457.8,279.6 L459.2,278.4 L460.8,277.5 L462.7,277.0 L464.7,277.0 L466.6,277.4 L468.3,277.7 L470.1,277.2 L472.0,276.9 L473.7,277.5 L475.0,278.7 L476.0,279.9 L477.2,280.9 L478.6,281.8 L480.1,282.7 L481.4,283.8 L482.3,285.2 L482.7,286.8Z" fill="#000" filter="url(#mt0)"/>
<path d="M533.5,290.7 L533.3,292.3 L532.7,293.9 L531.9,295.4 L530.9,296.7 L529.8,298.0 L528.5,299.2 L527.1,300.2 L525.5,301.1 L523.8,301.8 L522.0,302.2 L520.1,302.4 L518.2,302.6 L516.2,303.0 L514.1,303.1 L512.2,302.6 L510.5,301.6 L509.1,300.4 L507.7,299.3 L506.3,298.2 L504.9,297.0 L503.7,295.6 L502.8,294.1 L502.4,292.4 L502.4,290.7 L502.7,289.0 L503.2,287.4 L504.0,285.9 L505.0,284.4 L506.2,283.2 L507.7,282.1 L509.2,281.1 L510.8,280.3 L512.6,279.6 L514.5,279.5 L516.5,280.2 L518.2,280.7 L519.9,280.3 L521.8,279.6 L523.9,279.4 L526.1,279.6 L528.1,280.1 L530.0,281.1 L531.4,282.4 L532.3,284.0 L532.9,285.7 L533.3,287.4 L533.5,289.0Z" fill="#7a2c3c" filter="url(#bl)"/>
<path d="M533.0,290.7 L532.8,292.3 L532.3,293.8 L531.5,295.2 L530.5,296.5 L529.4,297.7 L528.2,298.8 L526.8,299.8 L525.3,300.6 L523.6,301.3 L521.8,301.8 L520.0,301.9 L518.2,302.1 L516.3,302.5 L514.3,302.6 L512.4,302.1 L510.8,301.1 L509.4,300.1 L508.0,299.0 L506.7,297.9 L505.3,296.7 L504.2,295.4 L503.3,293.9 L502.9,292.3 L502.9,290.7 L503.2,289.1 L503.7,287.5 L504.4,286.1 L505.4,284.7 L506.6,283.5 L508.0,282.4 L509.5,281.5 L511.1,280.7 L512.8,280.1 L514.7,280.0 L516.6,280.6 L518.2,281.1 L519.8,280.7 L521.7,280.1 L523.7,279.8 L525.8,280.0 L527.8,280.5 L529.6,281.4 L531.0,282.7 L531.9,284.3 L532.5,285.9 L532.8,287.5 L533.0,289.1Z" fill="#000" filter="url(#mt2)"/>
<ellipse cx="553.2" cy="304.4" rx="4.7" ry="2.1" fill="#d9b5b8" opacity="0.5" filter="url(#bl2)"/>
<path d="M575.2,294.5 L575.2,296.0 L575.1,297.6 L574.8,299.1 L574.1,300.6 L572.9,301.9 L571.5,303.0 L569.8,303.8 L568.2,304.6 L566.6,305.5 L564.9,306.2 L562.9,306.3 L561.0,306.1 L559.2,305.7 L557.5,304.9 L556.2,304.0 L554.9,303.0 L553.6,302.3 L552.1,301.7 L550.6,301.0 L549.3,300.0 L548.3,298.8 L547.4,297.4 L546.8,296.0 L546.3,294.5 L546.1,292.9 L546.3,291.3 L547.0,289.8 L547.8,288.3 L548.8,286.9 L550.0,285.6 L551.5,284.5 L553.3,283.7 L555.4,283.6 L557.6,284.1 L559.5,285.2 L561.0,285.9 L562.5,285.3 L564.3,284.4 L566.3,284.1 L568.2,284.5 L569.7,285.4 L570.8,286.5 L571.8,287.8 L572.7,289.0 L573.6,290.3 L574.4,291.6 L574.9,293.0Z" fill="#7a2c3c" filter="url(#bl)"/>
<path d="M574.7,294.5 L574.7,296.0 L574.6,297.4 L574.3,298.9 L573.6,300.3 L572.5,301.6 L571.1,302.6 L569.5,303.4 L568.0,304.2 L566.4,305.0 L564.7,305.6 L562.9,305.8 L561.0,305.6 L559.2,305.2 L557.7,304.5 L556.3,303.5 L555.1,302.7 L553.8,302.0 L552.4,301.4 L551.0,300.7 L549.7,299.7 L548.7,298.6 L547.9,297.3 L547.3,296.0 L546.8,294.5 L546.6,293.0 L546.9,291.5 L547.4,290.0 L548.3,288.6 L549.3,287.3 L550.4,286.0 L551.8,284.9 L553.6,284.2 L555.6,284.1 L557.7,284.6 L559.5,285.6 L561.0,286.3 L562.4,285.7 L564.2,284.8 L566.1,284.5 L567.9,284.9 L569.4,285.8 L570.5,286.9 L571.4,288.1 L572.3,289.3 L573.2,290.5 L573.9,291.7 L574.5,293.1Z" fill="#000" filter="url(#mt1)"/>
<path d="M379.8,332.0 L379.6,334.0 L378.9,335.9 L378.0,337.6 L377.2,339.3 L376.5,341.2 L375.6,343.1 L374.4,344.9 L372.7,346.1 L370.6,346.8 L368.4,346.7 L366.4,346.2 L364.5,346.0 L362.6,346.4 L360.5,346.8 L358.5,346.4 L356.8,345.4 L355.4,343.9 L354.3,342.2 L353.3,340.6 L352.6,338.9 L352.0,337.2 L351.6,335.5 L351.3,333.7 L350.9,332.0 L350.5,330.2 L350.0,328.1 L349.9,326.0 L350.4,323.9 L351.5,322.1 L353.1,320.6 L354.9,319.5 L356.6,318.4 L358.4,317.3 L360.4,316.7 L362.5,317.1 L364.5,318.0 L366.3,318.2 L368.1,318.4 L369.8,319.2 L371.3,320.2 L372.8,321.2 L374.2,322.3 L375.6,323.5 L376.7,324.9 L377.8,326.5 L378.8,328.2 L379.5,330.0Z" fill="#7a2c3c" filter="url(#bl)"/>
<path d="M379.3,332.0 L379.1,333.9 L378.4,335.7 L377.6,337.4 L376.8,339.1 L376.1,340.9 L375.2,342.7 L374.0,344.4 L372.4,345.7 L370.4,346.3 L368.3,346.2 L366.3,345.7 L364.5,345.5 L362.7,345.9 L360.7,346.3 L358.7,345.9 L357.0,344.9 L355.7,343.5 L354.6,341.9 L353.7,340.3 L353.0,338.7 L352.4,337.0 L352.0,335.3 L351.7,333.7 L351.4,332.0 L350.9,330.2 L350.5,328.2 L350.4,326.2 L350.9,324.1 L352.0,322.4 L353.5,321.0 L355.2,319.9 L356.9,318.8 L358.6,317.8 L360.5,317.2 L362.6,317.6 L364.5,318.4 L366.3,318.7 L368.0,318.9 L369.6,319.7 L371.1,320.6 L372.5,321.6 L373.9,322.6 L375.2,323.8 L376.3,325.2 L377.3,326.7 L378.3,328.3 L379.0,330.1Z" fill="#000" filter="url(#mt1)"/>
<ellipse cx="427.0" cy="348.0" rx="5.9" ry="2.6" fill="#d9b5b8" opacity="0.5" filter="url(#bl2)"/>
<path d="M424.5,335.9 L424.5,337.7 L424.1,339.5 L423.5,341.2 L422.8,342.9 L421.8,344.5 L420.5,345.9 L419.0,347.1 L417.3,348.0 L415.6,348.7 L413.7,349.1 L411.8,349.1 L410.0,348.9 L408.2,348.9 L406.4,348.7 L404.7,348.1 L403.0,347.4 L401.2,346.7 L399.4,346.0 L397.5,345.0 L396.0,343.6 L395.1,341.8 L394.7,339.8 L394.7,337.8 L395.0,335.9 L395.4,334.1 L396.0,332.3 L396.8,330.7 L397.9,329.3 L399.1,328.0 L400.3,326.7 L401.6,325.5 L403.0,324.4 L404.6,323.5 L406.4,323.2 L408.3,323.6 L410.0,323.9 L411.8,323.0 L413.9,322.0 L416.2,321.8 L418.2,322.5 L419.7,323.8 L420.9,325.6 L421.6,327.4 L422.3,329.2 L423.0,330.8 L423.7,332.4 L424.3,334.1Z" fill="#7a2c3c" filter="url(#bl)"/>
<path d="M424.0,335.9 L424.0,337.6 L423.6,339.4 L423.0,341.0 L422.3,342.6 L421.4,344.2 L420.2,345.5 L418.7,346.7 L417.1,347.5 L415.4,348.2 L413.6,348.6 L411.8,348.6 L410.0,348.5 L408.3,348.5 L406.5,348.3 L404.8,347.7 L403.2,347.0 L401.5,346.3 L399.7,345.6 L397.9,344.7 L396.5,343.3 L395.6,341.6 L395.2,339.7 L395.3,337.7 L395.5,335.9 L395.9,334.1 L396.5,332.5 L397.3,330.9 L398.3,329.5 L399.5,328.2 L400.7,327.1 L401.9,325.9 L403.2,324.8 L404.8,324.0 L406.5,323.6 L408.4,324.1 L410.0,324.3 L411.7,323.5 L413.8,322.5 L415.9,322.3 L417.9,323.0 L419.4,324.3 L420.5,325.9 L421.2,327.7 L421.9,329.4 L422.5,331.0 L423.2,332.5 L423.8,334.2Z" fill="#000" filter="url(#mt0)"/>
<ellipse cx="453.0" cy="349.4" rx="5.7" ry="2.7" fill="#d9b5b8" opacity="0.5" filter="url(#bl2)"/>
<path d="M480.6,336.6 L480.2,338.6 L479.5,340.4 L478.7,342.2 L477.9,343.9 L477.0,345.6 L475.9,347.2 L474.6,348.5 L472.9,349.5 L471.0,349.8 L469.1,349.6 L467.3,349.0 L465.7,348.5 L464.1,348.8 L462.4,349.3 L460.5,349.5 L458.6,349.3 L456.7,348.7 L454.9,347.8 L453.2,346.5 L452.0,344.8 L451.2,342.8 L450.8,340.7 L450.7,338.6 L450.9,336.6 L451.1,334.6 L451.6,332.7 L452.4,330.9 L453.6,329.4 L455.1,328.2 L456.7,327.3 L458.2,326.5 L459.5,325.5 L460.8,324.5 L462.3,323.7 L464.0,323.6 L465.7,323.5 L467.5,322.8 L469.4,322.2 L471.3,322.5 L473.0,323.5 L474.5,324.7 L475.8,326.1 L477.0,327.6 L478.1,329.2 L479.0,330.9 L479.9,332.7 L480.5,334.6Z" fill="#7a2c3c" filter="url(#bl)"/>
<path d="M480.0,336.6 L479.7,338.5 L479.0,340.3 L478.2,342.0 L477.4,343.6 L476.6,345.3 L475.6,346.8 L474.2,348.1 L472.6,349.0 L470.8,349.4 L468.9,349.2 L467.2,348.5 L465.7,348.1 L464.2,348.4 L462.5,348.9 L460.7,349.1 L458.9,348.8 L457.0,348.3 L455.3,347.4 L453.7,346.2 L452.5,344.5 L451.7,342.6 L451.3,340.6 L451.3,338.6 L451.4,336.6 L451.6,334.7 L452.1,332.8 L452.9,331.1 L454.0,329.6 L455.5,328.5 L457.0,327.6 L458.5,326.8 L459.7,325.9 L461.0,324.9 L462.5,324.1 L464.1,324.0 L465.7,324.0 L467.4,323.2 L469.3,322.7 L471.1,323.0 L472.8,323.9 L474.2,325.1 L475.5,326.5 L476.6,327.9 L477.6,329.5 L478.6,331.1 L479.4,332.8 L479.9,334.7Z" fill="#000" filter="url(#mt0)"/>
<path d="M528.4,338.2 L527.8,339.7 L526.9,341.1 L525.9,342.4 L524.9,343.6 L524.1,344.8 L523.2,346.0 L522.1,347.2 L520.7,348.1 L519.0,348.6 L517.3,348.7 L515.6,348.4 L514.0,348.4 L512.3,349.0 L510.5,349.4 L508.6,349.3 L507.0,348.5 L505.7,347.4 L504.7,346.1 L503.8,344.9 L502.8,343.7 L501.9,342.5 L501.1,341.1 L500.5,339.7 L500.1,338.2 L499.8,336.6 L499.8,335.0 L500.2,333.3 L501.1,331.9 L502.6,330.7 L504.3,329.9 L506.0,329.4 L507.7,328.8 L509.2,328.3 L510.8,328.1 L512.5,328.5 L514.0,329.0 L515.4,328.9 L517.0,328.6 L518.6,328.7 L520.3,328.9 L522.1,329.2 L524.0,329.7 L525.7,330.6 L527.0,331.8 L527.9,333.3 L528.4,334.9 L528.6,336.6Z" fill="#7a2c3c" filter="url(#bl)"/>
<path d="M527.9,338.2 L527.3,339.7 L526.4,341.0 L525.4,342.2 L524.5,343.3 L523.7,344.5 L522.9,345.7 L521.8,346.8 L520.5,347.7 L518.9,348.1 L517.2,348.2 L515.5,348.0 L514.0,348.0 L512.4,348.5 L510.6,349.0 L508.8,348.8 L507.3,348.1 L506.0,347.0 L505.0,345.8 L504.1,344.6 L503.2,343.5 L502.4,342.3 L501.6,341.0 L501.0,339.6 L500.6,338.2 L500.4,336.7 L500.4,335.1 L500.7,333.6 L501.6,332.2 L503.0,331.1 L504.7,330.3 L506.3,329.7 L507.9,329.2 L509.4,328.7 L510.9,328.5 L512.6,328.9 L514.0,329.4 L515.4,329.3 L516.9,329.1 L518.4,329.1 L520.0,329.3 L521.8,329.6 L523.6,330.1 L525.2,330.9 L526.5,332.1 L527.4,333.5 L527.9,335.1 L528.1,336.6Z" fill="#000" filter="url(#mt1)"/>
<ellipse cx="552.9" cy="345.1" rx="5.1" ry="2.3" fill="#d9b5b8" opacity="0.5" filter="url(#bl2)"/>
<path d="M573.3,335.6 L572.9,337.0 L572.3,338.3 L571.3,339.4 L570.2,340.4 L569.3,341.4 L568.5,342.6 L567.8,343.9 L566.9,345.3 L565.5,346.4 L563.7,346.8 L561.8,346.4 L560.0,346.0 L558.3,346.0 L556.5,346.1 L554.7,346.0 L553.0,345.5 L551.4,344.7 L550.2,343.6 L549.2,342.3 L548.3,341.1 L547.4,339.9 L546.7,338.5 L546.3,337.1 L546.4,335.6 L546.7,334.2 L547.0,332.8 L547.4,331.4 L548.1,330.0 L549.1,328.8 L550.6,327.9 L552.3,327.4 L554.0,327.2 L555.6,326.9 L557.0,326.6 L558.5,326.5 L560.0,326.2 L561.7,325.3 L563.6,324.7 L565.4,324.9 L567.2,325.5 L568.8,326.2 L570.4,327.1 L571.8,328.2 L572.8,329.6 L573.3,331.1 L573.5,332.7 L573.4,334.2Z" fill="#7a2c3c" filter="url(#bl)"/>
<path d="M572.8,335.6 L572.4,336.9 L571.8,338.2 L570.9,339.2 L569.8,340.2 L568.9,341.1 L568.2,342.2 L567.5,343.5 L566.6,344.9 L565.3,345.9 L563.5,346.3 L561.7,346.0 L560.0,345.5 L558.4,345.5 L556.7,345.7 L554.9,345.6 L553.2,345.1 L551.8,344.3 L550.6,343.2 L549.6,342.0 L548.7,340.9 L547.9,339.7 L547.2,338.4 L546.8,337.0 L546.9,335.6 L547.1,334.2 L547.5,332.9 L547.9,331.6 L548.5,330.2 L549.5,329.1 L550.9,328.3 L552.6,327.8 L554.3,327.6 L555.7,327.3 L557.2,327.0 L558.6,326.9 L560.0,326.6 L561.6,325.8 L563.4,325.2 L565.2,325.4 L566.9,325.9 L568.5,326.6 L570.1,327.5 L571.4,328.5 L572.3,329.8 L572.8,331.3 L573.0,332.8 L572.9,334.2Z" fill="#000" filter="url(#mt2)"/>
<ellipse cx="373.7" cy="395.1" rx="5.3" ry="1.8" fill="#d9b5b8" opacity="0.5" filter="url(#bl2)"/>
<path d="M381.8,383.8 L381.1,385.3 L380.7,386.7 L380.5,388.2 L380.4,389.9 L380.0,391.6 L379.1,393.1 L377.9,394.3 L376.4,395.3 L374.8,396.1 L373.1,396.7 L371.3,396.9 L369.5,396.9 L367.7,397.1 L365.8,397.0 L364.1,396.4 L362.5,395.5 L361.0,394.4 L359.8,393.2 L358.8,391.7 L358.2,390.1 L357.8,388.5 L357.4,386.9 L356.8,385.4 L356.3,383.8 L356.0,382.1 L356.2,380.4 L357.1,378.8 L358.3,377.6 L359.5,376.4 L360.6,375.3 L361.7,374.0 L362.9,372.7 L364.3,371.7 L366.0,371.4 L367.9,371.8 L369.5,372.2 L371.2,371.6 L373.1,370.9 L375.0,371.0 L376.7,371.7 L378.2,372.9 L379.5,374.2 L380.6,375.6 L381.6,377.1 L382.3,378.7 L382.6,380.4 L382.4,382.2Z" fill="#7a2c3c" filter="url(#bl)"/>
<path d="M381.3,383.8 L380.7,385.2 L380.3,386.6 L380.1,388.0 L380.0,389.6 L379.6,391.3 L378.8,392.7 L377.6,393.9 L376.1,394.8 L374.6,395.6 L372.9,396.2 L371.2,396.4 L369.5,396.4 L367.8,396.6 L366.0,396.5 L364.3,395.9 L362.8,395.0 L361.4,394.0 L360.1,392.8 L359.2,391.4 L358.6,389.8 L358.2,388.3 L357.8,386.8 L357.3,385.3 L356.8,383.8 L356.5,382.2 L356.7,380.5 L357.5,379.0 L358.7,377.8 L359.9,376.7 L361.0,375.6 L362.0,374.4 L363.1,373.2 L364.5,372.2 L366.2,371.8 L367.9,372.3 L369.5,372.7 L371.1,372.1 L373.0,371.4 L374.8,371.5 L376.5,372.2 L377.9,373.3 L379.1,374.6 L380.2,375.9 L381.1,377.3 L381.8,378.9 L382.1,380.5 L381.9,382.2Z" fill="#000" filter="url(#mt1)"/>
<ellipse cx="430.9" cy="394.8" rx="5.7" ry="2.8" fill="#d9b5b8" opacity="0.5" filter="url(#bl2)"/>
<path d="M429.1,383.5 L429.0,385.2 L428.5,386.8 L427.7,388.3 L426.7,389.6 L425.5,390.9 L424.4,392.1 L423.2,393.3 L421.9,394.5 L420.3,395.4 L418.5,396.0 L416.6,396.0 L414.8,395.8 L413.0,396.0 L411.1,395.9 L409.3,395.4 L407.8,394.4 L406.4,393.3 L405.0,392.3 L403.5,391.3 L402.0,390.1 L400.5,388.8 L399.5,387.2 L399.0,385.4 L399.2,383.5 L399.7,381.7 L400.4,380.0 L401.2,378.4 L402.2,377.0 L403.4,375.6 L404.9,374.6 L406.5,373.8 L408.2,373.2 L409.9,372.9 L411.6,372.8 L413.3,373.2 L414.8,373.4 L416.4,372.6 L418.4,371.6 L420.5,371.2 L422.6,371.3 L424.7,371.9 L426.5,373.0 L427.8,374.6 L428.5,376.4 L428.8,378.3 L428.9,380.1 L429.0,381.8Z" fill="#7a2c3c" filter="url(#bl)"/>
<path d="M428.6,383.5 L428.5,385.1 L428.0,386.7 L427.3,388.1 L426.3,389.4 L425.2,390.6 L424.1,391.8 L422.9,392.9 L421.6,394.1 L420.1,395.0 L418.4,395.5 L416.6,395.5 L414.8,395.4 L413.0,395.5 L411.2,395.5 L409.5,394.9 L408.0,394.0 L406.7,393.0 L405.3,392.0 L403.9,391.0 L402.4,389.9 L401.0,388.6 L400.0,387.0 L399.6,385.3 L399.7,383.5 L400.2,381.8 L400.9,380.2 L401.7,378.6 L402.6,377.2 L403.8,375.9 L405.2,374.9 L406.8,374.2 L408.4,373.6 L410.1,373.3 L411.7,373.2 L413.3,373.6 L414.8,373.8 L416.3,373.0 L418.2,372.1 L420.3,371.7 L422.4,371.8 L424.3,372.4 L426.1,373.4 L427.3,374.9 L428.0,376.7 L428.3,378.5 L428.5,380.2 L428.5,381.9Z" fill="#000" filter="url(#mt1)"/>
<ellipse cx="452.9" cy="393.2" rx="3.8" ry="2.1" fill="#d9b5b8" opacity="0.5" filter="url(#bl2)"/>
<path d="M479.5,383.8 L479.2,385.2 L478.6,386.5 L477.6,387.7 L476.4,388.6 L475.3,389.5 L474.5,390.5 L473.7,391.8 L472.8,393.2 L471.6,394.3 L469.9,394.9 L468.0,394.7 L466.3,394.3 L464.6,394.2 L462.9,394.3 L461.1,394.1 L459.4,393.6 L457.9,392.8 L456.7,391.8 L455.6,390.6 L454.7,389.3 L454.0,388.0 L453.4,386.7 L453.2,385.2 L453.3,383.8 L453.6,382.4 L453.9,381.1 L454.2,379.7 L454.7,378.3 L455.5,377.0 L456.8,376.0 L458.5,375.4 L460.2,375.1 L461.9,375.0 L463.4,374.8 L464.9,374.9 L466.3,374.7 L467.9,373.8 L469.8,373.1 L471.6,373.2 L473.3,373.8 L474.9,374.6 L476.4,375.5 L477.6,376.6 L478.6,377.9 L479.2,379.4 L479.5,380.9 L479.6,382.4Z" fill="#7a2c3c" filter="url(#bl)"/>
<path d="M479.0,383.8 L478.7,385.1 L478.1,386.4 L477.1,387.5 L476.0,388.4 L475.0,389.2 L474.1,390.2 L473.4,391.4 L472.6,392.7 L471.4,393.8 L469.8,394.4 L468.0,394.2 L466.3,393.8 L464.7,393.7 L463.0,393.8 L461.3,393.6 L459.7,393.2 L458.2,392.4 L457.0,391.4 L456.0,390.3 L455.2,389.1 L454.4,387.8 L453.9,386.5 L453.7,385.2 L453.8,383.8 L454.1,382.5 L454.4,381.2 L454.7,379.9 L455.1,378.5 L455.9,377.3 L457.2,376.3 L458.8,375.8 L460.5,375.5 L462.0,375.4 L463.5,375.3 L464.9,375.3 L466.3,375.1 L467.8,374.2 L469.7,373.6 L471.4,373.7 L473.0,374.2 L474.5,375.0 L476.0,375.9 L477.2,376.9 L478.1,378.2 L478.7,379.6 L479.0,381.0 L479.0,382.4Z" fill="#000" filter="url(#mt1)"/>
<path d="M522.4,384.6 L522.3,386.0 L521.9,387.3 L521.4,388.5 L520.7,389.7 L519.9,390.8 L519.0,391.8 L518.0,392.7 L516.9,393.5 L515.7,394.4 L514.5,395.1 L513.0,395.5 L511.5,395.6 L510.0,395.7 L508.5,395.3 L507.2,394.4 L506.2,393.4 L505.2,392.5 L504.1,391.6 L503.1,390.8 L502.2,389.7 L501.6,388.5 L501.3,387.2 L501.3,385.9 L501.3,384.6 L501.2,383.3 L501.2,382.0 L501.4,380.6 L501.8,379.2 L502.4,377.9 L503.2,376.7 L504.3,375.7 L505.6,374.8 L507.1,374.4 L508.7,374.6 L510.2,375.4 L511.5,376.1 L512.7,375.7 L514.2,375.0 L515.8,374.8 L517.2,375.1 L518.5,375.9 L519.5,377.0 L520.2,378.3 L520.7,379.5 L521.2,380.8 L521.8,382.0 L522.2,383.3Z" fill="#7a2c3c" filter="url(#bl)"/>
<path d="M522.0,384.6 L521.8,385.9 L521.5,387.1 L520.9,388.3 L520.3,389.4 L519.5,390.5 L518.7,391.4 L517.7,392.3 L516.7,393.1 L515.6,393.9 L514.3,394.6 L512.9,395.0 L511.5,395.1 L510.0,395.1 L508.6,394.8 L507.4,394.0 L506.4,393.0 L505.5,392.1 L504.5,391.3 L503.5,390.5 L502.6,389.5 L502.1,388.3 L501.8,387.1 L501.7,385.8 L501.7,384.6 L501.7,383.4 L501.7,382.1 L501.9,380.8 L502.2,379.5 L502.8,378.3 L503.6,377.1 L504.6,376.1 L505.9,375.3 L507.3,374.9 L508.8,375.0 L510.3,375.8 L511.5,376.5 L512.7,376.1 L514.1,375.5 L515.6,375.3 L517.0,375.6 L518.2,376.3 L519.1,377.3 L519.8,378.6 L520.3,379.8 L520.8,380.9 L521.3,382.1 L521.8,383.3Z" fill="#000" filter="url(#mt2)"/>
<ellipse cx="557.1" cy="394.4" rx="3.2" ry="1.6" fill="#d9b5b8" opacity="0.5" filter="url(#bl2)"/>
<path d="M567.6,385.0 L566.9,386.4 L566.5,387.7 L566.1,389.0 L565.7,390.3 L565.0,391.6 L563.9,392.6 L562.7,393.4 L561.5,394.1 L560.2,394.7 L558.9,395.3 L557.4,395.5 L556.0,395.5 L554.5,395.6 L553.0,395.6 L551.5,395.3 L550.1,394.7 L548.8,394.0 L547.7,392.9 L546.9,391.6 L546.4,390.3 L546.0,389.0 L545.4,387.7 L544.7,386.4 L544.0,385.0 L543.7,383.5 L544.0,381.9 L544.8,380.6 L545.8,379.4 L546.9,378.3 L548.0,377.3 L549.0,376.3 L550.3,375.5 L551.7,375.1 L553.3,375.2 L554.7,375.9 L556.0,376.3 L557.3,375.8 L558.8,375.2 L560.3,375.2 L561.7,375.6 L563.0,376.3 L564.3,377.1 L565.6,377.9 L566.9,379.0 L567.9,380.3 L568.3,381.8 L568.1,383.5Z" fill="#7a2c3c" filter="url(#bl)"/>
<path d="M567.1,385.0 L566.5,386.3 L566.0,387.6 L565.7,388.8 L565.3,390.1 L564.6,391.3 L563.6,392.2 L562.4,393.0 L561.2,393.6 L560.0,394.3 L558.8,394.8 L557.4,395.0 L556.0,395.0 L554.6,395.1 L553.2,395.1 L551.7,394.8 L550.4,394.3 L549.1,393.6 L548.1,392.6 L547.3,391.3 L546.9,390.0 L546.4,388.8 L545.9,387.6 L545.2,386.4 L544.5,385.0 L544.2,383.5 L544.5,382.1 L545.3,380.8 L546.3,379.6 L547.3,378.6 L548.3,377.7 L549.4,376.7 L550.5,376.0 L551.9,375.6 L553.4,375.7 L554.8,376.3 L556.0,376.7 L557.2,376.2 L558.6,375.6 L560.1,375.6 L561.4,376.1 L562.7,376.7 L563.9,377.4 L565.2,378.3 L566.5,379.2 L567.4,380.5 L567.8,382.0 L567.6,383.5Z" fill="#000" filter="url(#mt2)"/>
<text  x="344.6" y="313.6" font-size="10.95" text-anchor="start" fill="#231f20"><tspan font-style="italic">Ei24</tspan><tspan class="sp" font-size="6.13" dy="-3.94">fl/fl</tspan><tspan dy="3.94"> BMDMs</tspan></text>
<text  x="344.6" y="366.8" font-size="10.95" text-anchor="start" fill="#231f20"><tspan font-style="italic">Lyz2</tspan><tspan class="sp" font-size="6.13" dy="-3.94">cre</tspan><tspan font-style="italic" dy="3.94">Ei24</tspan><tspan class="sp" font-size="6.13" dy="-3.94">fl/fl</tspan><tspan dy="3.94"> BMDMs</tspan></text>
<line x1="42.70" y1="511.20" x2="42.70" y2="664.00" stroke="#2a2a2a" stroke-width="1.1" stroke-linecap="butt"/>
<line x1="36.80" y1="511.20" x2="42.70" y2="511.20" stroke="#2a2a2a" stroke-width="1.1" stroke-linecap="butt"/>
<text x="33.2" y="515.088" font-size="10.8" text-anchor="end" font-weight="normal" font-style="normal" fill="#231f20" >1.5</text>
<line x1="36.80" y1="562.13" x2="42.70" y2="562.13" stroke="#2a2a2a" stroke-width="1.1" stroke-linecap="butt"/>
<text x="33.2" y="566.0213333333334" font-size="10.8" text-anchor="end" font-weight="normal" font-style="normal" fill="#231f20" >1.0</text>
<line x1="36.80" y1="613.07" x2="42.70" y2="613.07" stroke="#2a2a2a" stroke-width="1.1" stroke-linecap="butt"/>
<text x="33.2" y="616.9546666666666" font-size="10.8" text-anchor="end" font-weight="normal" font-style="normal" fill="#231f20" >0.5</text>
<line x1="36.80" y1="664.00" x2="42.70" y2="664.00" stroke="#2a2a2a" stroke-width="1.1" stroke-linecap="butt"/>
<text x="33.2" y="667.888" font-size="10.8" text-anchor="end" font-weight="normal" font-style="normal" fill="#231f20" >0.0</text>
<line x1="42.70" y1="664.00" x2="144.50" y2="664.00" stroke="#2a2a2a" stroke-width="1.1" stroke-linecap="butt"/>
<text transform="translate(9.9,597.7) rotate(-90)" font-size="10.2" text-anchor="middle" fill="#231f20">Lung weight (g)</text>
<rect x="54" y="598.2" width="18.400000000000006" height="65.79999999999995" fill="#d9b0dc" stroke="#b466c2" stroke-width="1.2"/>
<line x1="63.20" y1="591.20" x2="63.20" y2="605.00" stroke="#b466c2" stroke-width="1.2" stroke-linecap="butt"/>
<line x1="58.20" y1="591.20" x2="68.20" y2="591.20" stroke="#b466c2" stroke-width="1.2" stroke-linecap="butt"/>
<line x1="58.20" y1="605.00" x2="68.20" y2="605.00" stroke="#b466c2" stroke-width="1.2" stroke-linecap="butt"/>
<line x1="63.20" y1="664.00" x2="63.20" y2="670.10" stroke="#2a2a2a" stroke-width="1.1" stroke-linecap="butt"/>
<rect x="84.3" y="592.3" width="18.700000000000003" height="71.70000000000005" fill="#91aad8" stroke="#3a5db5" stroke-width="1.2"/>
<line x1="93.65" y1="582.40" x2="93.65" y2="599.30" stroke="#3a5db5" stroke-width="1.2" stroke-linecap="butt"/>
<line x1="88.65" y1="582.40" x2="98.65" y2="582.40" stroke="#3a5db5" stroke-width="1.2" stroke-linecap="butt"/>
<line x1="88.65" y1="599.30" x2="98.65" y2="599.30" stroke="#3a5db5" stroke-width="1.2" stroke-linecap="butt"/>
<line x1="93.65" y1="664.00" x2="93.65" y2="670.10" stroke="#2a2a2a" stroke-width="1.1" stroke-linecap="butt"/>
<rect x="115.3" y="625.1" width="18.299999999999997" height="38.89999999999998" fill="#eca48c" stroke="#e85a2c" stroke-width="1.2"/>
<line x1="124.45" y1="617.60" x2="124.45" y2="631.30" stroke="#e85a2c" stroke-width="1.2" stroke-linecap="butt"/>
<line x1="119.45" y1="617.60" x2="129.45" y2="617.60" stroke="#e85a2c" stroke-width="1.2" stroke-linecap="butt"/>
<line x1="119.45" y1="631.30" x2="129.45" y2="631.30" stroke="#e85a2c" stroke-width="1.2" stroke-linecap="butt"/>
<line x1="124.45" y1="664.00" x2="124.45" y2="670.10" stroke="#2a2a2a" stroke-width="1.1" stroke-linecap="butt"/>
<circle cx="63.10" cy="576.60" r="2.2" fill="#b466c2" />
<circle cx="63.10" cy="590.60" r="2.2" fill="#b466c2" />
<circle cx="58.40" cy="603.30" r="2.2" fill="#b466c2" />
<circle cx="67.60" cy="604.30" r="2.2" fill="#b466c2" />
<circle cx="63.10" cy="610.10" r="2.2" fill="#b466c2" />
<circle cx="93.60" cy="564.90" r="2.2" fill="#3a5db5" />
<circle cx="89.10" cy="588.20" r="2.2" fill="#3a5db5" />
<circle cx="98.30" cy="585.00" r="2.2" fill="#3a5db5" />
<circle cx="93.60" cy="604.50" r="2.2" fill="#3a5db5" />
<circle cx="93.60" cy="613.10" r="2.2" fill="#3a5db5" />
<circle cx="124.40" cy="602.40" r="2.2" fill="#e85a2c" />
<circle cx="124.40" cy="616.40" r="2.2" fill="#e85a2c" />
<circle cx="124.40" cy="627.60" r="2.2" fill="#e85a2c" />
<circle cx="119.70" cy="637.80" r="2.2" fill="#e85a2c" />
<circle cx="129.10" cy="636.80" r="2.2" fill="#e85a2c" />
<polyline points="63.10,527.20 63.10,499.40 124.30,499.40 124.30,508.70" fill="none" stroke="#2a2a2a" stroke-width="1.1" stroke-linejoin="miter"/>
<text x="93.6" y="494.5" font-size="8.0" text-anchor="middle" font-weight="normal" font-style="normal" fill="#231f20"  class="sm">P=0.0448</text>
<polyline points="93.60,533.60 93.60,524.50 124.30,524.50 124.30,589.40" fill="none" stroke="#2a2a2a" stroke-width="1.1" stroke-linejoin="miter"/>
<text x="109.3" y="519.9" font-size="8.0" text-anchor="middle" font-weight="normal" font-style="normal" fill="#231f20"  class="sm">P=0.0153</text>
<polyline points="63.10,569.00 63.10,548.40 93.60,548.40 93.60,557.30" fill="none" stroke="#2a2a2a" stroke-width="1.1" stroke-linejoin="miter"/>
<text x="78.3" y="544.3" font-size="8.0" text-anchor="middle" font-weight="normal" font-style="normal" fill="#231f20"  class="sm">P=0.8234</text>
<circle cx="138.00" cy="517.30" r="2.2" fill="#b466c2" />
<text x="148" y="520.2" font-size="10.7" text-anchor="start" font-weight="normal" font-style="normal" fill="#231f20" >PBS</text>
<circle cx="138.00" cy="538.20" r="2.2" fill="#3a5db5" />
<text  x="148" y="542" font-size="10.85" text-anchor="start" fill="#231f20"><tspan font-style="italic">Ei24</tspan><tspan class="sp" font-size="6.08" dy="-3.91">fl/fl</tspan><tspan dy="3.91"> BMDMs</tspan></text>
<circle cx="138.00" cy="560.00" r="2.2" fill="#e85a2c" />
<text  x="148" y="563.8" font-size="10.85" text-anchor="start" fill="#231f20"><tspan font-style="italic">Lyz2</tspan><tspan class="sp" font-size="6.08" dy="-3.91">cre</tspan><tspan font-style="italic" dy="3.91">Ei24</tspan><tspan class="sp" font-size="6.08" dy="-3.91">fl/fl</tspan><tspan dy="3.91"> BMDMs</tspan></text>
<line x1="291.70" y1="512.10" x2="291.70" y2="648.20" stroke="#2a2a2a" stroke-width="1.1" stroke-linecap="butt"/>
<line x1="286.20" y1="648.20" x2="291.70" y2="648.20" stroke="#2a2a2a" stroke-width="1.1" stroke-linecap="butt"/>
<line x1="288.70" y1="617.23" x2="291.70" y2="617.23" stroke="#2a2a2a" stroke-width="1.1" stroke-linecap="butt"/>
<line x1="286.20" y1="586.25" x2="291.70" y2="586.25" stroke="#2a2a2a" stroke-width="1.1" stroke-linecap="butt"/>
<line x1="288.70" y1="555.27" x2="291.70" y2="555.27" stroke="#2a2a2a" stroke-width="1.1" stroke-linecap="butt"/>
<line x1="286.20" y1="524.30" x2="291.70" y2="524.30" stroke="#2a2a2a" stroke-width="1.1" stroke-linecap="butt"/>
<text x="284" y="528.5999999999999" font-size="10.8" text-anchor="end" font-weight="normal" font-style="normal" fill="#231f20" >100</text>
<text x="284" y="590.55" font-size="10.8" text-anchor="end" font-weight="normal" font-style="normal" fill="#231f20" >50</text>
<text x="284" y="652.5" font-size="10.8" text-anchor="end" font-weight="normal" font-style="normal" fill="#231f20" >0</text>
<line x1="291.70" y1="648.20" x2="428.20" y2="648.20" stroke="#2a2a2a" stroke-width="1.1" stroke-linecap="butt"/>
<line x1="291.70" y1="648.20" x2="291.70" y2="652.90" stroke="#2a2a2a" stroke-width="1.1" stroke-linecap="butt"/>
<line x1="337.00" y1="648.20" x2="337.00" y2="652.90" stroke="#2a2a2a" stroke-width="1.1" stroke-linecap="butt"/>
<line x1="382.30" y1="648.20" x2="382.30" y2="652.90" stroke="#2a2a2a" stroke-width="1.1" stroke-linecap="butt"/>
<line x1="427.60" y1="648.20" x2="427.60" y2="652.90" stroke="#2a2a2a" stroke-width="1.1" stroke-linecap="butt"/>
<text x="291.7" y="665.3" font-size="10.8" text-anchor="middle" font-weight="normal" font-style="normal" fill="#231f20" >0</text>
<text x="337.0" y="665.3" font-size="10.8" text-anchor="middle" font-weight="normal" font-style="normal" fill="#231f20" >5</text>
<text x="382.3" y="665.3" font-size="10.8" text-anchor="middle" font-weight="normal" font-style="normal" fill="#231f20" >10</text>
<text x="427.6" y="665.3" font-size="10.8" text-anchor="middle" font-weight="normal" font-style="normal" fill="#231f20" >15</text>
<text x="360" y="676.9" font-size="11" text-anchor="middle" font-weight="normal" font-style="normal" fill="#231f20" >Time(d)</text>
<text transform="translate(268.3,580) rotate(-90)" font-size="10.6" text-anchor="middle" fill="#231f20">Survival (%)</text>
<polyline points="291.70,524.30 346.06,524.30 346.06,542.02 364.18,542.02 364.18,559.74 400.42,559.74" fill="none" stroke="#e85528" stroke-width="1.9" stroke-linejoin="miter"/>
<circle cx="346.06" cy="542.02" r="2.6" fill="#e85528" />
<circle cx="364.18" cy="559.74" r="2.6" fill="#e85528" />
<circle cx="400.42" cy="559.74" r="2.6" fill="#e85528" />
<polyline points="346.06,524.30 346.06,570.76 355.12,570.76 355.12,632.71 373.24,632.71 373.24,648.20" fill="none" stroke="#3a60b8" stroke-width="1.9" stroke-linejoin="miter"/>
<circle cx="346.06" cy="570.76" r="2.6" fill="#3a60b8" />
<circle cx="355.12" cy="632.71" r="2.6" fill="#3a60b8" />
<circle cx="373.24" cy="648.20" r="2.6" fill="#3a60b8" />
<polyline points="291.70,524.30 346.06,524.30 346.06,559.74 355.12,559.74 355.12,595.05 364.18,595.05 364.18,648.20" fill="none" stroke="#8a2e9e" stroke-width="1.9" stroke-linejoin="miter"/>
<circle cx="346.06" cy="559.74" r="2.6" fill="#8a2e9e" />
<circle cx="355.12" cy="595.05" r="2.6" fill="#8a2e9e" />
<circle cx="364.18" cy="648.20" r="2.6" fill="#8a2e9e" />
<polyline points="407.30,560.00 414.30,560.00 414.30,645.40 407.30,645.40" fill="none" stroke="#222" stroke-width="1.0" stroke-linejoin="miter"/>
<text class="sm" transform="translate(418.6,603.4) rotate(90)" font-size="8.2" text-anchor="middle" fill="#231f20">P=0.0153</text>
<line x1="294.00" y1="495.50" x2="308.60" y2="495.50" stroke="#8a2e9e" stroke-width="1.9" stroke-linecap="butt"/>
<circle cx="301.40" cy="495.50" r="2.6" fill="#8a2e9e" />
<text x="312" y="499.2" font-size="10.7" text-anchor="start" font-weight="normal" font-style="normal" fill="#231f20" >PBS</text>
<line x1="345.80" y1="495.50" x2="360.50" y2="495.50" stroke="#3a60b8" stroke-width="1.9" stroke-linecap="butt"/>
<circle cx="353.10" cy="495.50" r="2.6" fill="#3a60b8" />
<text  x="364.4" y="499.2" font-size="10.7" text-anchor="start" fill="#231f20"><tspan font-style="italic">Ei24</tspan><tspan class="sp" font-size="5.99" dy="-3.85">fl/fl</tspan><tspan dy="3.85"> BMDMs</tspan></text>
<line x1="294.00" y1="508.60" x2="308.60" y2="508.60" stroke="#e85528" stroke-width="1.9" stroke-linecap="butt"/>
<circle cx="301.40" cy="508.60" r="2.6" fill="#e85528" />
<text  x="312.6" y="513" font-size="10.7" text-anchor="start" fill="#231f20"><tspan font-style="italic">Lyz2</tspan><tspan class="sp" font-size="5.99" dy="-3.85">cre</tspan><tspan font-style="italic" dy="3.85">Ei24</tspan><tspan class="sp" font-size="5.99" dy="-3.85">fl/fl</tspan><tspan dy="3.85"> BMDMs</tspan></text>
<line x1="477.70" y1="511.20" x2="477.70" y2="663.60" stroke="#2a2a2a" stroke-width="1.1" stroke-linecap="butt"/>
<line x1="472.20" y1="511.20" x2="477.70" y2="511.20" stroke="#2a2a2a" stroke-width="1.1" stroke-linecap="butt"/>
<text x="469.8" y="515.588" font-size="10.8" text-anchor="end" font-weight="normal" font-style="normal" fill="#231f20" >0.8</text>
<line x1="472.20" y1="549.30" x2="477.70" y2="549.30" stroke="#2a2a2a" stroke-width="1.1" stroke-linecap="butt"/>
<text x="469.8" y="553.688" font-size="10.8" text-anchor="end" font-weight="normal" font-style="normal" fill="#231f20" >0.6</text>
<line x1="472.20" y1="587.40" x2="477.70" y2="587.40" stroke="#2a2a2a" stroke-width="1.1" stroke-linecap="butt"/>
<text x="469.8" y="591.788" font-size="10.8" text-anchor="end" font-weight="normal" font-style="normal" fill="#231f20" >0.4</text>
<line x1="472.20" y1="625.50" x2="477.70" y2="625.50" stroke="#2a2a2a" stroke-width="1.1" stroke-linecap="butt"/>
<text x="469.8" y="629.888" font-size="10.8" text-anchor="end" font-weight="normal" font-style="normal" fill="#231f20" >0.2</text>
<line x1="472.20" y1="663.60" x2="477.70" y2="663.60" stroke="#2a2a2a" stroke-width="1.1" stroke-linecap="butt"/>
<text x="469.8" y="667.988" font-size="10.8" text-anchor="end" font-weight="normal" font-style="normal" fill="#231f20" >0.0</text>
<line x1="477.70" y1="663.60" x2="579.00" y2="663.60" stroke="#2a2a2a" stroke-width="1.1" stroke-linecap="butt"/>
<text transform="translate(449.8,587) rotate(-90)" font-size="10.5" text-anchor="middle" fill="#231f20">PR8 relative concentration</text>
<rect x="489.2" y="615.4" width="18.600000000000023" height="48.200000000000045" fill="#d9b0dc" stroke="#b466c2" stroke-width="1.2"/>
<line x1="498.50" y1="589.90" x2="498.50" y2="638.10" stroke="#b466c2" stroke-width="1.2" stroke-linecap="butt"/>
<line x1="493.00" y1="589.90" x2="504.00" y2="589.90" stroke="#b466c2" stroke-width="1.2" stroke-linecap="butt"/>
<line x1="493.00" y1="638.10" x2="504.00" y2="638.10" stroke="#b466c2" stroke-width="1.2" stroke-linecap="butt"/>
<line x1="498.50" y1="663.60" x2="498.50" y2="669.50" stroke="#2a2a2a" stroke-width="1.1" stroke-linecap="butt"/>
<rect x="520.3" y="629.7" width="18.0" height="33.89999999999998" fill="#91aad8" stroke="#3a5db5" stroke-width="1.2"/>
<line x1="529.30" y1="617.80" x2="529.30" y2="638.80" stroke="#3a5db5" stroke-width="1.2" stroke-linecap="butt"/>
<line x1="523.80" y1="617.80" x2="534.80" y2="617.80" stroke="#3a5db5" stroke-width="1.2" stroke-linecap="butt"/>
<line x1="523.80" y1="638.80" x2="534.80" y2="638.80" stroke="#3a5db5" stroke-width="1.2" stroke-linecap="butt"/>
<line x1="529.30" y1="663.60" x2="529.30" y2="669.50" stroke="#2a2a2a" stroke-width="1.1" stroke-linecap="butt"/>
<rect x="549.5" y="655.1" width="19.299999999999955" height="8.5" fill="#eca48c" stroke="#e85a2c" stroke-width="1.2"/>
<line x1="559.15" y1="652.40" x2="559.15" y2="657.80" stroke="#e85a2c" stroke-width="1.2" stroke-linecap="butt"/>
<line x1="553.65" y1="652.40" x2="564.65" y2="652.40" stroke="#e85a2c" stroke-width="1.2" stroke-linecap="butt"/>
<line x1="553.65" y1="657.80" x2="564.65" y2="657.80" stroke="#e85a2c" stroke-width="1.2" stroke-linecap="butt"/>
<line x1="559.15" y1="663.60" x2="559.15" y2="669.50" stroke="#2a2a2a" stroke-width="1.1" stroke-linecap="butt"/>
<circle cx="498.50" cy="524.10" r="2.2" fill="#b466c2" />
<circle cx="498.30" cy="614.40" r="2.2" fill="#b466c2" />
<circle cx="498.30" cy="626.30" r="2.2" fill="#b466c2" />
<circle cx="498.30" cy="651.00" r="2.2" fill="#b466c2" />
<circle cx="498.30" cy="656.10" r="2.2" fill="#b466c2" />
<circle cx="528.80" cy="591.60" r="2.2" fill="#3a5db5" />
<circle cx="523.00" cy="627.00" r="2.2" fill="#3a5db5" />
<circle cx="534.20" cy="627.00" r="2.2" fill="#3a5db5" />
<circle cx="529.20" cy="640.50" r="2.2" fill="#3a5db5" />
<circle cx="529.20" cy="655.00" r="2.2" fill="#3a5db5" />
<circle cx="551.20" cy="646.60" r="2.2" fill="#e85a2c" />
<circle cx="567.10" cy="650.70" r="2.2" fill="#e85a2c" />
<circle cx="557.00" cy="654.40" r="2.2" fill="#e85a2c" />
<circle cx="562.00" cy="654.40" r="2.2" fill="#e85a2c" />
<circle cx="551.90" cy="657.50" r="2.2" fill="#e85a2c" />
<polyline points="498.50,490.00 498.50,469.70 559.00,469.70 559.00,475.40" fill="none" stroke="#2a2a2a" stroke-width="1.1" stroke-linejoin="miter"/>
<text x="529" y="465.5" font-size="8.0" text-anchor="middle" font-weight="normal" font-style="normal" fill="#231f20"  class="sm">P=0.0952</text>
<polyline points="528.80,498.00 528.80,489.00 559.00,489.00 559.00,618.50" fill="none" stroke="#2a2a2a" stroke-width="1.1" stroke-linejoin="miter"/>
<text x="544.5" y="484.7" font-size="8.0" text-anchor="middle" font-weight="normal" font-style="normal" fill="#231f20"  class="sm">P=0.0317</text>
<polyline points="498.50,518.00 498.50,508.60 528.80,508.60 528.80,572.60" fill="none" stroke="#2a2a2a" stroke-width="1.1" stroke-linejoin="miter"/>
<text x="513.4" y="504.7" font-size="8.0" text-anchor="middle" font-weight="normal" font-style="normal" fill="#231f20"  class="sm">P=0.8413</text>
<circle cx="572.10" cy="517.40" r="2.2" fill="#b466c2" />
<text x="581.7" y="520.6" font-size="10.7" text-anchor="start" font-weight="normal" font-style="normal" fill="#231f20" >PBS</text>
<circle cx="572.10" cy="537.80" r="2.2" fill="#3a5db5" />
<text  x="581.7" y="542" font-size="10.85" text-anchor="start" fill="#231f20"><tspan font-style="italic">Ei24</tspan><tspan class="sp" font-size="6.08" dy="-3.91">fl/fl</tspan><tspan dy="3.91"> BMDMs</tspan></text>
<circle cx="572.10" cy="559.90" r="2.2" fill="#e85a2c" />
<text  x="581.7" y="564" font-size="10.85" text-anchor="start" fill="#231f20"><tspan font-style="italic">Lyz2</tspan><tspan class="sp" font-size="6.08" dy="-3.91">cre</tspan><tspan font-style="italic" dy="3.91">Ei24</tspan><tspan class="sp" font-size="6.08" dy="-3.91">fl/fl</tspan><tspan dy="3.91"> BMDMs</tspan></text>
</g>
</svg></body></html>
